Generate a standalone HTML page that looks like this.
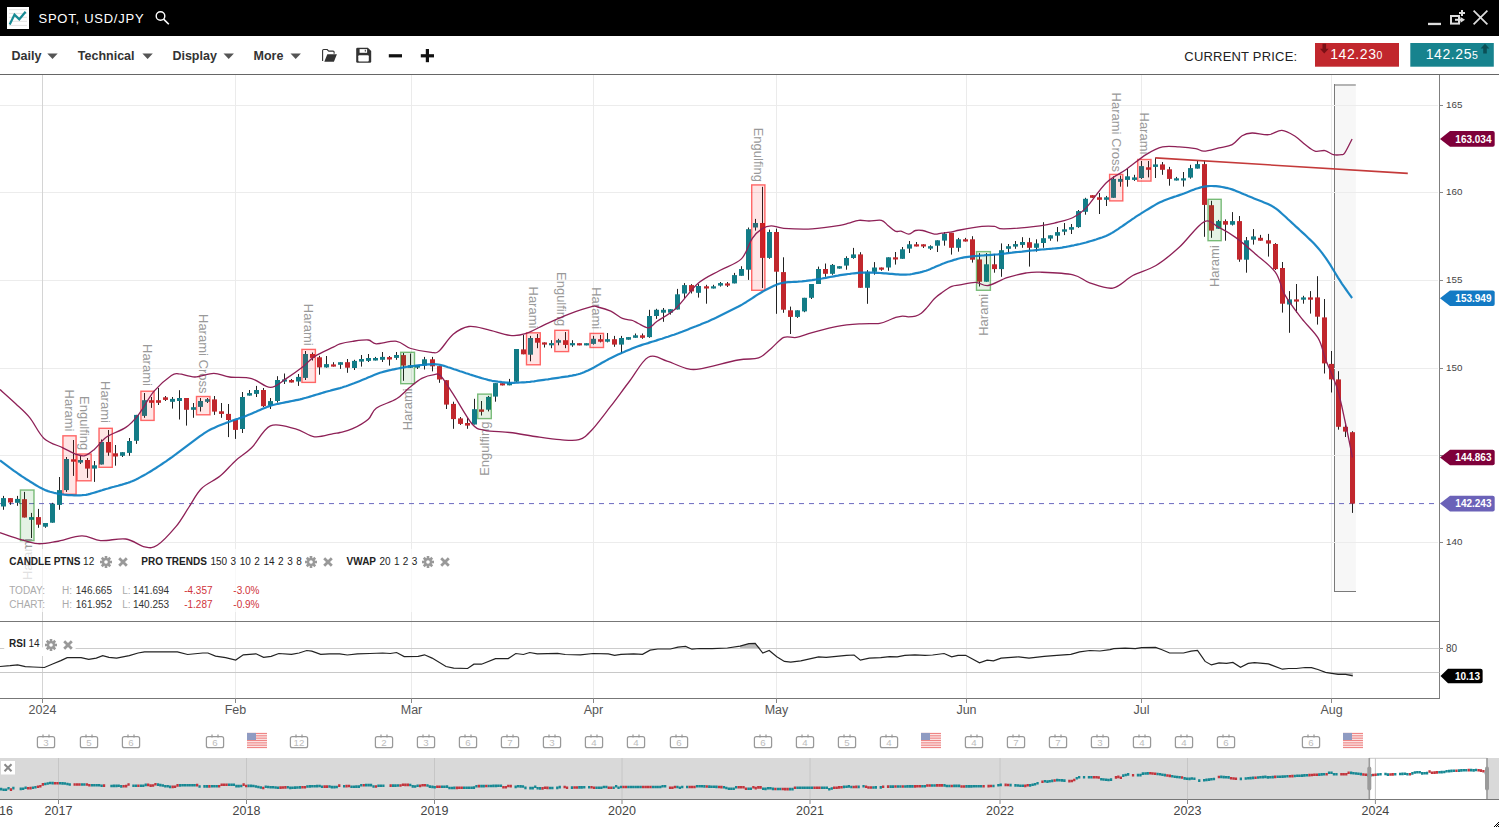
<!DOCTYPE html><html><head><meta charset="utf-8"><style>
html,body{margin:0;padding:0;background:#fff;overflow:hidden;width:1499px;height:827px;}
*{font-family:"Liberation Sans",sans-serif;}
</style></head><body>
<svg width="1499" height="827" viewBox="0 0 1499 827" style="position:absolute;left:0;top:0;display:block" font-family="Liberation Sans, sans-serif">
<rect x="0" y="0" width="1499" height="36" fill="#000"/>
<rect x="7" y="7" width="22" height="22" fill="#fff"/>
<line x1="9" y1="9.7" x2="27" y2="9.7" stroke="#e2e2e2" stroke-width="1"/>
<line x1="9" y1="13.4" x2="27" y2="13.4" stroke="#e2e2e2" stroke-width="1"/>
<line x1="9" y1="17.3" x2="27" y2="17.3" stroke="#e2e2e2" stroke-width="1"/>
<line x1="9" y1="21.3" x2="27" y2="21.3" stroke="#e2e2e2" stroke-width="1"/>
<line x1="9" y1="25.4" x2="27" y2="25.4" stroke="#e2e2e2" stroke-width="1"/>
<polyline points="9.7,24.4 14.5,14.6 19.3,19.3 25.6,11.8" fill="none" stroke="#178a94" stroke-width="2.2" stroke-linejoin="miter"/>
<text x="38.5" y="23" font-size="13" fill="#fff" letter-spacing="0.75">SPOT, USD/JPY</text>
<circle cx="160.5" cy="16" r="4.3" fill="none" stroke="#fff" stroke-width="1.4"/>
<line x1="163.6" y1="19.1" x2="168.8" y2="24.3" stroke="#fff" stroke-width="1.6"/>
<rect x="1428" y="22.8" width="13" height="2.3" fill="#ddd"/>
<rect x="1451" y="16" width="8" height="7.6" fill="none" stroke="#ddd" stroke-width="2"/>
<line x1="1455" y1="19.8" x2="1461.5" y2="19.8" stroke="#ddd" stroke-width="2"/>
<path d="M1460.5,17 L1465,19.8 L1460.5,22.7 z" fill="#ddd"/>
<path d="M1462,10 v6 M1459,13 h6" stroke="#ddd" stroke-width="2"/>
<path d="M1473.6,10.6 L1487.4,24.4 M1487.4,10.6 L1473.6,24.4" stroke="#ddd" stroke-width="1.7"/>
<rect x="0" y="36" width="1499" height="38" fill="#fff"/>
<line x1="0" y1="74.5" x2="1499" y2="74.5" stroke="#666" stroke-width="1"/>
<text x="11.5" y="60" font-size="12.5" font-weight="bold" fill="#333">Daily</text>
<path d="M47.3,53.5 h10.4 l-5.2,5.6 z" fill="#555"/>
<text x="77.8" y="60" font-size="12.5" font-weight="bold" fill="#333">Technical</text>
<path d="M142.4,53.5 h10.4 l-5.2,5.6 z" fill="#555"/>
<text x="172.4" y="60" font-size="12.5" font-weight="bold" fill="#333">Display</text>
<path d="M223.5,53.5 h10.4 l-5.2,5.6 z" fill="#555"/>
<text x="253.5" y="60" font-size="12.5" font-weight="bold" fill="#333">More</text>
<path d="M290.5,53.5 h10.4 l-5.2,5.6 z" fill="#555"/>
<path d="M322.6,61 V50.6 q0,-1.1 1.1,-1.1 h3.4 l1.6,1.6 h4.4 q1,0 1,1 v1.6" fill="none" stroke="#333" stroke-width="1.1" stroke-linejoin="round"/>
<path d="M324.3,61.8 L327.3,54.2 H336.9 L333.9,61.8 Z" fill="#333"/>
<path d="M356.2,49.1 q0,-1.3 1.3,-1.3 h10.4 l3.3,3.3 v10.4 q0,1.3 -1.3,1.3 h-12.4 q-1.3,0 -1.3,-1.3 z" fill="#333"/>
<rect x="359.6" y="49.1" width="7.5" height="3.7" fill="#fff"/>
<rect x="364.8" y="49.8" width="1" height="1.8" fill="#333"/>
<rect x="358.3" y="55.2" width="10.5" height="6.3" rx="1" fill="#fff"/>
<rect x="388.8" y="54.2" width="13.2" height="3.2" fill="#111"/>
<rect x="420.8" y="54.2" width="13.2" height="3.2" fill="#111"/>
<rect x="425.8" y="49" width="3.2" height="13.2" fill="#111"/>
<text x="1184.3" y="61.2" font-size="13" fill="#222" letter-spacing="0.2">CURRENT PRICE:</text>
<rect x="1315" y="43" width="84" height="23.7" fill="#c1272d"/>
<path d="M1322.5,43.8 h3.6 v5 h2.6 l-4.4,4.8 l-4.4,-4.8 h2.6 z" fill="#7a1016"/>
<text x="1330.2" y="59.2" font-size="14" fill="#fff" letter-spacing="0.6">142.23<tspan font-size="10.5">0</tspan></text>
<rect x="1410.3" y="43" width="83.5" height="23.7" fill="#17838e"/>
<path d="M1483.2,53.6 h3.6 v-5 h2.6 l-4.4,-4.8 l-4.4,4.8 h2.6 z" fill="#0b4f56"/>
<text x="1425.7" y="59.2" font-size="14" fill="#fff" letter-spacing="0.6">142.25<tspan font-size="10.5">5</tspan></text>
<rect x="1334.5" y="85" width="21.3" height="506.3" fill="#f7f7f7"/>
<line x1="1334.5" y1="85" x2="1355.8" y2="85" stroke="#b4b4b4" stroke-width="2"/>
<line x1="1334.5" y1="84" x2="1334.5" y2="592" stroke="#7a7a7a" stroke-width="1"/>
<line x1="1334" y1="591.5" x2="1356" y2="591.5" stroke="#7a7a7a" stroke-width="1"/>
<line x1="0" y1="105.5" x2="1438" y2="105.5" stroke="#ececec" stroke-width="1"/>
<line x1="0" y1="192.5" x2="1438" y2="192.5" stroke="#ececec" stroke-width="1"/>
<line x1="0" y1="280.5" x2="1438" y2="280.5" stroke="#ececec" stroke-width="1"/>
<line x1="0" y1="368.5" x2="1438" y2="368.5" stroke="#ececec" stroke-width="1"/>
<line x1="0" y1="455.5" x2="1438" y2="455.5" stroke="#ececec" stroke-width="1"/>
<line x1="0" y1="542.5" x2="1438" y2="542.5" stroke="#ececec" stroke-width="1"/>
<line x1="42.5" y1="75" x2="42.5" y2="698" stroke="#d4d4d4" stroke-width="1"/>
<line x1="235.5" y1="75" x2="235.5" y2="698" stroke="#ebebeb" stroke-width="1"/>
<line x1="411.5" y1="75" x2="411.5" y2="698" stroke="#ebebeb" stroke-width="1"/>
<line x1="593.5" y1="75" x2="593.5" y2="698" stroke="#ebebeb" stroke-width="1"/>
<line x1="776.5" y1="75" x2="776.5" y2="698" stroke="#ebebeb" stroke-width="1"/>
<line x1="966.5" y1="75" x2="966.5" y2="698" stroke="#ebebeb" stroke-width="1"/>
<line x1="1141.5" y1="75" x2="1141.5" y2="698" stroke="#ebebeb" stroke-width="1"/>
<line x1="1331.5" y1="75" x2="1331.5" y2="698" stroke="#ebebeb" stroke-width="1"/>
<line x1="0" y1="503.6" x2="1439" y2="503.6" stroke="#6b68c0" stroke-width="1" stroke-dasharray="5,5" stroke-dashoffset="1"/>
<line x1="3.50" y1="495.9" x2="3.50" y2="509.8" stroke="#222" stroke-width="1"/>
<rect x="1.00" y="498.1" width="5" height="8.4" fill="#137c87"/>
<line x1="10.50" y1="498.1" x2="10.50" y2="504.8" stroke="#222" stroke-width="1"/>
<rect x="8.00" y="498.1" width="5" height="4.4" fill="#c1272d"/>
<line x1="17.50" y1="495.9" x2="17.50" y2="505.8" stroke="#222" stroke-width="1"/>
<rect x="15.00" y="498.9" width="5" height="3.9" fill="#137c87"/>
<line x1="24.50" y1="491.9" x2="24.50" y2="517.5" stroke="#222" stroke-width="1"/>
<rect x="22.00" y="499.2" width="5" height="18.3" fill="#c1272d"/>
<line x1="31.50" y1="512.9" x2="31.50" y2="538.0" stroke="#222" stroke-width="1"/>
<rect x="29.00" y="517.1" width="5" height="2.7" fill="#137c87"/>
<line x1="38.50" y1="508.9" x2="38.50" y2="527.8" stroke="#222" stroke-width="1"/>
<rect x="36.00" y="517.1" width="5" height="7.6" fill="#c1272d"/>
<line x1="45.50" y1="523.0" x2="45.50" y2="527.8" stroke="#222" stroke-width="1"/>
<rect x="43.00" y="523.0" width="5" height="3.7" fill="#137c87"/>
<line x1="52.50" y1="502.8" x2="52.50" y2="522.7" stroke="#222" stroke-width="1"/>
<rect x="50.00" y="503.8" width="5" height="18.9" fill="#137c87"/>
<line x1="59.50" y1="477.0" x2="59.50" y2="509.8" stroke="#222" stroke-width="1"/>
<rect x="57.00" y="490.1" width="5" height="14.8" fill="#137c87"/>
<line x1="66.50" y1="457.0" x2="66.50" y2="491.9" stroke="#222" stroke-width="1"/>
<rect x="64.00" y="459.0" width="5" height="31.1" fill="#137c87"/>
<line x1="73.50" y1="440.0" x2="73.50" y2="475.9" stroke="#222" stroke-width="1"/>
<rect x="71.00" y="459.3" width="5" height="2.4" fill="#c1272d"/>
<line x1="80.50" y1="456.0" x2="80.50" y2="464.0" stroke="#222" stroke-width="1"/>
<rect x="78.00" y="460.0" width="5" height="2.6" fill="#137c87"/>
<line x1="87.50" y1="458.0" x2="87.50" y2="477.9" stroke="#222" stroke-width="1"/>
<rect x="85.00" y="460.0" width="5" height="8.6" fill="#c1272d"/>
<line x1="94.50" y1="461.0" x2="94.50" y2="481.9" stroke="#222" stroke-width="1"/>
<rect x="92.00" y="465.3" width="5" height="3.3" fill="#137c87"/>
<line x1="101.50" y1="439.5" x2="101.50" y2="464.5" stroke="#222" stroke-width="1"/>
<rect x="99.00" y="442.0" width="5" height="22.5" fill="#137c87"/>
<line x1="108.50" y1="430.0" x2="108.50" y2="455.8" stroke="#222" stroke-width="1"/>
<rect x="106.00" y="442.0" width="5" height="10.6" fill="#c1272d"/>
<line x1="115.50" y1="445.0" x2="115.50" y2="465.7" stroke="#222" stroke-width="1"/>
<rect x="113.00" y="453.3" width="5" height="3.2" fill="#c1272d"/>
<line x1="122.50" y1="452.2" x2="122.50" y2="457.0" stroke="#222" stroke-width="1"/>
<rect x="120.00" y="452.2" width="5" height="3.6" fill="#137c87"/>
<line x1="129.50" y1="438.0" x2="129.50" y2="455.8" stroke="#222" stroke-width="1"/>
<rect x="127.00" y="441.0" width="5" height="11.9" fill="#137c87"/>
<line x1="136.50" y1="414.9" x2="136.50" y2="443.9" stroke="#222" stroke-width="1"/>
<rect x="134.00" y="414.9" width="5" height="25.9" fill="#137c87"/>
<line x1="144.50" y1="393.0" x2="144.50" y2="417.8" stroke="#222" stroke-width="1"/>
<rect x="142.00" y="400.2" width="5" height="15.7" fill="#137c87"/>
<line x1="151.50" y1="397.0" x2="151.50" y2="407.9" stroke="#222" stroke-width="1"/>
<rect x="149.00" y="400.2" width="5" height="2.6" fill="#c1272d"/>
<line x1="158.50" y1="388.0" x2="158.50" y2="405.0" stroke="#222" stroke-width="1"/>
<rect x="156.00" y="400.2" width="5" height="2.6" fill="#c1272d"/>
<line x1="165.50" y1="396.0" x2="165.50" y2="401.0" stroke="#222" stroke-width="1"/>
<rect x="163.00" y="397.3" width="5" height="2.6" fill="#c1272d"/>
<line x1="172.50" y1="397.0" x2="172.50" y2="408.6" stroke="#222" stroke-width="1"/>
<rect x="170.00" y="398.9" width="5" height="2.9" fill="#137c87"/>
<line x1="179.50" y1="390.2" x2="179.50" y2="419.5" stroke="#222" stroke-width="1"/>
<rect x="177.00" y="398.0" width="5" height="3.0" fill="#137c87"/>
<line x1="186.50" y1="398.0" x2="186.50" y2="425.6" stroke="#222" stroke-width="1"/>
<rect x="184.00" y="398.0" width="5" height="11.8" fill="#c1272d"/>
<line x1="193.50" y1="403.0" x2="193.50" y2="417.8" stroke="#222" stroke-width="1"/>
<rect x="191.00" y="407.2" width="5" height="2.6" fill="#137c87"/>
<line x1="200.50" y1="398.0" x2="200.50" y2="411.5" stroke="#222" stroke-width="1"/>
<rect x="198.00" y="401.0" width="5" height="5.9" fill="#137c87"/>
<line x1="207.50" y1="398.0" x2="207.50" y2="403.0" stroke="#222" stroke-width="1"/>
<rect x="205.00" y="399.2" width="5" height="2.6" fill="#137c87"/>
<line x1="214.50" y1="396.0" x2="214.50" y2="414.9" stroke="#222" stroke-width="1"/>
<rect x="212.00" y="399.4" width="5" height="12.2" fill="#c1272d"/>
<line x1="221.50" y1="403.0" x2="221.50" y2="417.8" stroke="#222" stroke-width="1"/>
<rect x="219.00" y="411.3" width="5" height="2.6" fill="#c1272d"/>
<line x1="228.50" y1="404.0" x2="228.50" y2="437.1" stroke="#222" stroke-width="1"/>
<rect x="226.00" y="413.9" width="5" height="6.1" fill="#c1272d"/>
<line x1="235.50" y1="420.0" x2="235.50" y2="438.9" stroke="#222" stroke-width="1"/>
<rect x="233.00" y="420.0" width="5" height="9.9" fill="#c1272d"/>
<line x1="242.50" y1="392.0" x2="242.50" y2="433.0" stroke="#222" stroke-width="1"/>
<rect x="240.00" y="397.0" width="5" height="32.0" fill="#137c87"/>
<line x1="249.50" y1="390.0" x2="249.50" y2="395.6" stroke="#222" stroke-width="1"/>
<rect x="247.00" y="393.1" width="5" height="2.5" fill="#137c87"/>
<line x1="256.50" y1="385.9" x2="256.50" y2="397.0" stroke="#222" stroke-width="1"/>
<rect x="254.00" y="390.0" width="5" height="3.9" fill="#137c87"/>
<line x1="263.50" y1="388.0" x2="263.50" y2="407.0" stroke="#222" stroke-width="1"/>
<rect x="261.00" y="390.0" width="5" height="16.2" fill="#c1272d"/>
<line x1="270.50" y1="398.0" x2="270.50" y2="409.0" stroke="#222" stroke-width="1"/>
<rect x="268.00" y="401.1" width="5" height="4.4" fill="#137c87"/>
<line x1="277.50" y1="376.2" x2="277.50" y2="402.6" stroke="#222" stroke-width="1"/>
<rect x="275.00" y="380.0" width="5" height="21.0" fill="#137c87"/>
<line x1="284.50" y1="373.5" x2="284.50" y2="384.0" stroke="#222" stroke-width="1"/>
<rect x="282.00" y="379.4" width="5" height="2.2" fill="#137c87"/>
<line x1="291.50" y1="379.0" x2="291.50" y2="382.5" stroke="#222" stroke-width="1"/>
<rect x="289.00" y="380.0" width="5" height="2.5" fill="#c1272d"/>
<line x1="298.50" y1="374.0" x2="298.50" y2="385.9" stroke="#222" stroke-width="1"/>
<rect x="296.00" y="376.9" width="5" height="4.6" fill="#137c87"/>
<line x1="305.50" y1="351.0" x2="305.50" y2="380.0" stroke="#222" stroke-width="1"/>
<rect x="303.00" y="354.0" width="5" height="23.9" fill="#137c87"/>
<line x1="312.50" y1="352.5" x2="312.50" y2="360.5" stroke="#222" stroke-width="1"/>
<rect x="310.00" y="354.0" width="5" height="3.9" fill="#c1272d"/>
<line x1="319.50" y1="355.8" x2="319.50" y2="374.7" stroke="#222" stroke-width="1"/>
<rect x="317.00" y="357.3" width="5" height="10.1" fill="#c1272d"/>
<line x1="326.50" y1="356.0" x2="326.50" y2="367.7" stroke="#222" stroke-width="1"/>
<rect x="324.00" y="364.1" width="5" height="3.3" fill="#137c87"/>
<line x1="333.50" y1="362.2" x2="333.50" y2="366.6" stroke="#222" stroke-width="1"/>
<rect x="331.00" y="364.4" width="5" height="2.2" fill="#c1272d"/>
<line x1="340.50" y1="362.2" x2="340.50" y2="368.9" stroke="#222" stroke-width="1"/>
<rect x="338.00" y="362.2" width="5" height="2.6" fill="#137c87"/>
<line x1="347.50" y1="359.0" x2="347.50" y2="372.8" stroke="#222" stroke-width="1"/>
<rect x="345.00" y="362.2" width="5" height="5.5" fill="#c1272d"/>
<line x1="354.50" y1="359.8" x2="354.50" y2="370.0" stroke="#222" stroke-width="1"/>
<rect x="352.00" y="360.9" width="5" height="7.1" fill="#137c87"/>
<line x1="361.50" y1="355.0" x2="361.50" y2="366.6" stroke="#222" stroke-width="1"/>
<rect x="359.00" y="359.0" width="5" height="2.6" fill="#137c87"/>
<line x1="368.50" y1="354.0" x2="368.50" y2="362.0" stroke="#222" stroke-width="1"/>
<rect x="366.00" y="358.0" width="5" height="2.9" fill="#137c87"/>
<line x1="375.50" y1="356.9" x2="375.50" y2="360.5" stroke="#222" stroke-width="1"/>
<rect x="373.00" y="358.0" width="5" height="2.5" fill="#137c87"/>
<line x1="382.50" y1="352.0" x2="382.50" y2="362.0" stroke="#222" stroke-width="1"/>
<rect x="380.00" y="356.9" width="5" height="2.9" fill="#137c87"/>
<line x1="389.50" y1="356.0" x2="389.50" y2="365.6" stroke="#222" stroke-width="1"/>
<rect x="387.00" y="357.1" width="5" height="2.4" fill="#c1272d"/>
<line x1="396.50" y1="352.0" x2="396.50" y2="359.8" stroke="#222" stroke-width="1"/>
<rect x="394.00" y="355.0" width="5" height="2.9" fill="#137c87"/>
<line x1="403.50" y1="353.0" x2="403.50" y2="380.8" stroke="#222" stroke-width="1"/>
<rect x="401.00" y="355.1" width="5" height="10.5" fill="#c1272d"/>
<line x1="410.50" y1="353.5" x2="410.50" y2="368.0" stroke="#222" stroke-width="1"/>
<rect x="408.00" y="365.3" width="5" height="2.4" fill="#137c87"/>
<line x1="417.50" y1="365.1" x2="417.50" y2="369.0" stroke="#222" stroke-width="1"/>
<rect x="415.00" y="365.1" width="5" height="2.6" fill="#137c87"/>
<line x1="424.50" y1="356.9" x2="424.50" y2="369.5" stroke="#222" stroke-width="1"/>
<rect x="422.00" y="359.3" width="5" height="6.3" fill="#137c87"/>
<line x1="432.50" y1="356.9" x2="432.50" y2="371.4" stroke="#222" stroke-width="1"/>
<rect x="430.00" y="359.3" width="5" height="7.0" fill="#c1272d"/>
<line x1="439.50" y1="366.1" x2="439.50" y2="382.8" stroke="#222" stroke-width="1"/>
<rect x="437.00" y="366.1" width="5" height="13.4" fill="#c1272d"/>
<line x1="446.50" y1="380.2" x2="446.50" y2="409.0" stroke="#222" stroke-width="1"/>
<rect x="444.00" y="380.2" width="5" height="24.4" fill="#c1272d"/>
<line x1="453.50" y1="401.7" x2="453.50" y2="428.8" stroke="#222" stroke-width="1"/>
<rect x="451.00" y="403.9" width="5" height="15.2" fill="#c1272d"/>
<line x1="460.50" y1="417.0" x2="460.50" y2="424.9" stroke="#222" stroke-width="1"/>
<rect x="458.00" y="418.4" width="5" height="5.5" fill="#c1272d"/>
<line x1="467.50" y1="417.0" x2="467.50" y2="428.8" stroke="#222" stroke-width="1"/>
<rect x="465.00" y="423.0" width="5" height="2.6" fill="#c1272d"/>
<line x1="474.50" y1="398.8" x2="474.50" y2="424.5" stroke="#222" stroke-width="1"/>
<rect x="472.00" y="409.2" width="5" height="15.3" fill="#137c87"/>
<line x1="481.50" y1="401.0" x2="481.50" y2="415.5" stroke="#222" stroke-width="1"/>
<rect x="479.00" y="409.4" width="5" height="2.4" fill="#c1272d"/>
<line x1="488.50" y1="395.9" x2="488.50" y2="411.4" stroke="#222" stroke-width="1"/>
<rect x="486.00" y="396.9" width="5" height="12.8" fill="#137c87"/>
<line x1="495.50" y1="383.1" x2="495.50" y2="401.7" stroke="#222" stroke-width="1"/>
<rect x="493.00" y="383.1" width="5" height="13.5" fill="#137c87"/>
<line x1="502.50" y1="383.3" x2="502.50" y2="385.4" stroke="#222" stroke-width="1"/>
<rect x="500.00" y="383.2" width="5" height="2.2" fill="#c1272d"/>
<line x1="509.50" y1="378.9" x2="509.50" y2="385.3" stroke="#222" stroke-width="1"/>
<rect x="507.00" y="382.8" width="5" height="2.5" fill="#137c87"/>
<line x1="516.50" y1="349.0" x2="516.50" y2="382.1" stroke="#222" stroke-width="1"/>
<rect x="514.00" y="349.0" width="5" height="32.6" fill="#137c87"/>
<line x1="523.50" y1="334.9" x2="523.50" y2="354.3" stroke="#222" stroke-width="1"/>
<rect x="521.00" y="349.4" width="5" height="4.9" fill="#c1272d"/>
<line x1="530.50" y1="335.9" x2="530.50" y2="361.3" stroke="#222" stroke-width="1"/>
<rect x="528.00" y="338.0" width="5" height="16.7" fill="#137c87"/>
<line x1="537.50" y1="334.0" x2="537.50" y2="348.2" stroke="#222" stroke-width="1"/>
<rect x="535.00" y="338.0" width="5" height="4.7" fill="#c1272d"/>
<line x1="544.50" y1="342.4" x2="544.50" y2="347.5" stroke="#222" stroke-width="1"/>
<rect x="542.00" y="342.4" width="5" height="2.2" fill="#c1272d"/>
<line x1="551.50" y1="340.2" x2="551.50" y2="348.2" stroke="#222" stroke-width="1"/>
<rect x="549.00" y="343.1" width="5" height="2.2" fill="#137c87"/>
<line x1="558.50" y1="338.8" x2="558.50" y2="345.3" stroke="#222" stroke-width="1"/>
<rect x="556.00" y="340.2" width="5" height="2.5" fill="#137c87"/>
<line x1="565.50" y1="332.0" x2="565.50" y2="348.2" stroke="#222" stroke-width="1"/>
<rect x="563.00" y="340.2" width="5" height="4.7" fill="#c1272d"/>
<line x1="572.50" y1="340.2" x2="572.50" y2="346.8" stroke="#222" stroke-width="1"/>
<rect x="570.00" y="343.1" width="5" height="2.2" fill="#137c87"/>
<line x1="579.50" y1="343.4" x2="579.50" y2="345.3" stroke="#222" stroke-width="1"/>
<rect x="577.00" y="343.2" width="5" height="2.2" fill="#c1272d"/>
<line x1="586.50" y1="343.4" x2="586.50" y2="345.3" stroke="#222" stroke-width="1"/>
<rect x="584.00" y="343.2" width="5" height="2.2" fill="#137c87"/>
<line x1="593.50" y1="335.9" x2="593.50" y2="344.6" stroke="#222" stroke-width="1"/>
<rect x="591.00" y="338.8" width="5" height="5.1" fill="#137c87"/>
<line x1="600.50" y1="334.9" x2="600.50" y2="342.4" stroke="#222" stroke-width="1"/>
<rect x="598.00" y="339.2" width="5" height="2.5" fill="#c1272d"/>
<line x1="607.50" y1="333.0" x2="607.50" y2="342.4" stroke="#222" stroke-width="1"/>
<rect x="605.00" y="339.2" width="5" height="2.5" fill="#137c87"/>
<line x1="614.50" y1="335.9" x2="614.50" y2="346.8" stroke="#222" stroke-width="1"/>
<rect x="612.00" y="339.2" width="5" height="5.4" fill="#c1272d"/>
<line x1="621.50" y1="335.9" x2="621.50" y2="353.3" stroke="#222" stroke-width="1"/>
<rect x="619.00" y="338.0" width="5" height="6.6" fill="#137c87"/>
<line x1="628.50" y1="337.1" x2="628.50" y2="339.7" stroke="#222" stroke-width="1"/>
<rect x="626.00" y="337.1" width="5" height="2.6" fill="#137c87"/>
<line x1="635.50" y1="333.5" x2="635.50" y2="337.8" stroke="#222" stroke-width="1"/>
<rect x="633.00" y="335.3" width="5" height="2.5" fill="#137c87"/>
<line x1="642.50" y1="333.5" x2="642.50" y2="338.8" stroke="#222" stroke-width="1"/>
<rect x="640.00" y="335.3" width="5" height="2.5" fill="#c1272d"/>
<line x1="649.50" y1="309.8" x2="649.50" y2="337.8" stroke="#222" stroke-width="1"/>
<rect x="647.00" y="316.0" width="5" height="21.1" fill="#137c87"/>
<line x1="656.50" y1="308.8" x2="656.50" y2="318.9" stroke="#222" stroke-width="1"/>
<rect x="654.00" y="309.8" width="5" height="6.2" fill="#137c87"/>
<line x1="663.50" y1="308.0" x2="663.50" y2="321.8" stroke="#222" stroke-width="1"/>
<rect x="661.00" y="309.8" width="5" height="2.9" fill="#137c87"/>
<line x1="670.50" y1="309.2" x2="670.50" y2="314.6" stroke="#222" stroke-width="1"/>
<rect x="668.00" y="309.2" width="5" height="3.5" fill="#137c87"/>
<line x1="677.50" y1="288.9" x2="677.50" y2="309.5" stroke="#222" stroke-width="1"/>
<rect x="675.00" y="294.3" width="5" height="15.2" fill="#137c87"/>
<line x1="684.50" y1="283.1" x2="684.50" y2="298.6" stroke="#222" stroke-width="1"/>
<rect x="682.00" y="285.1" width="5" height="8.4" fill="#137c87"/>
<line x1="691.50" y1="284.1" x2="691.50" y2="293.5" stroke="#222" stroke-width="1"/>
<rect x="689.00" y="285.1" width="5" height="6.3" fill="#c1272d"/>
<line x1="698.50" y1="284.1" x2="698.50" y2="297.6" stroke="#222" stroke-width="1"/>
<rect x="696.00" y="286.0" width="5" height="6.8" fill="#137c87"/>
<line x1="706.50" y1="284.8" x2="706.50" y2="303.7" stroke="#222" stroke-width="1"/>
<rect x="704.00" y="286.3" width="5" height="2.2" fill="#c1272d"/>
<line x1="713.50" y1="284.8" x2="713.50" y2="288.5" stroke="#222" stroke-width="1"/>
<rect x="711.00" y="286.3" width="5" height="2.2" fill="#137c87"/>
<line x1="720.50" y1="282.0" x2="720.50" y2="286.6" stroke="#222" stroke-width="1"/>
<rect x="718.00" y="283.1" width="5" height="2.5" fill="#137c87"/>
<line x1="727.50" y1="282.0" x2="727.50" y2="287.0" stroke="#222" stroke-width="1"/>
<rect x="725.00" y="283.4" width="5" height="2.2" fill="#c1272d"/>
<line x1="734.50" y1="272.9" x2="734.50" y2="283.4" stroke="#222" stroke-width="1"/>
<rect x="732.00" y="275.1" width="5" height="8.3" fill="#137c87"/>
<line x1="741.50" y1="266.2" x2="741.50" y2="275.8" stroke="#222" stroke-width="1"/>
<rect x="739.00" y="269.0" width="5" height="6.8" fill="#137c87"/>
<line x1="748.50" y1="227.5" x2="748.50" y2="279.9" stroke="#222" stroke-width="1"/>
<rect x="746.00" y="229.2" width="5" height="40.5" fill="#137c87"/>
<line x1="755.50" y1="218.9" x2="755.50" y2="230.6" stroke="#222" stroke-width="1"/>
<rect x="753.00" y="223.0" width="5" height="4.5" fill="#137c87"/>
<line x1="762.50" y1="186.8" x2="762.50" y2="288.1" stroke="#222" stroke-width="1"/>
<rect x="760.00" y="223.0" width="5" height="34.9" fill="#c1272d"/>
<line x1="769.50" y1="229.6" x2="769.50" y2="258.8" stroke="#222" stroke-width="1"/>
<rect x="767.00" y="232.0" width="5" height="25.9" fill="#137c87"/>
<line x1="776.50" y1="228.6" x2="776.50" y2="313.8" stroke="#222" stroke-width="1"/>
<rect x="774.00" y="232.0" width="5" height="39.7" fill="#c1272d"/>
<line x1="783.50" y1="257.3" x2="783.50" y2="312.8" stroke="#222" stroke-width="1"/>
<rect x="781.00" y="272.1" width="5" height="37.6" fill="#c1272d"/>
<line x1="790.50" y1="306.6" x2="790.50" y2="334.0" stroke="#222" stroke-width="1"/>
<rect x="788.00" y="310.3" width="5" height="6.6" fill="#c1272d"/>
<line x1="797.50" y1="310.3" x2="797.50" y2="317.9" stroke="#222" stroke-width="1"/>
<rect x="795.00" y="310.3" width="5" height="6.6" fill="#137c87"/>
<line x1="804.50" y1="297.8" x2="804.50" y2="312.2" stroke="#222" stroke-width="1"/>
<rect x="802.00" y="297.8" width="5" height="13.6" fill="#137c87"/>
<line x1="811.50" y1="284.0" x2="811.50" y2="299.0" stroke="#222" stroke-width="1"/>
<rect x="809.00" y="284.0" width="5" height="13.8" fill="#137c87"/>
<line x1="818.50" y1="266.6" x2="818.50" y2="284.0" stroke="#222" stroke-width="1"/>
<rect x="816.00" y="269.0" width="5" height="15.0" fill="#137c87"/>
<line x1="825.50" y1="263.5" x2="825.50" y2="276.8" stroke="#222" stroke-width="1"/>
<rect x="823.00" y="269.0" width="5" height="4.8" fill="#c1272d"/>
<line x1="832.50" y1="264.0" x2="832.50" y2="274.8" stroke="#222" stroke-width="1"/>
<rect x="830.00" y="264.9" width="5" height="8.9" fill="#137c87"/>
<line x1="839.50" y1="266.2" x2="839.50" y2="268.6" stroke="#222" stroke-width="1"/>
<rect x="837.00" y="266.2" width="5" height="2.4" fill="#137c87"/>
<line x1="846.50" y1="256.3" x2="846.50" y2="269.7" stroke="#222" stroke-width="1"/>
<rect x="844.00" y="258.0" width="5" height="7.6" fill="#137c87"/>
<line x1="853.50" y1="247.9" x2="853.50" y2="258.8" stroke="#222" stroke-width="1"/>
<rect x="851.00" y="254.4" width="5" height="3.6" fill="#137c87"/>
<line x1="860.50" y1="252.2" x2="860.50" y2="287.8" stroke="#222" stroke-width="1"/>
<rect x="858.00" y="254.4" width="5" height="33.4" fill="#c1272d"/>
<line x1="867.50" y1="270.1" x2="867.50" y2="303.8" stroke="#222" stroke-width="1"/>
<rect x="865.00" y="271.8" width="5" height="16.0" fill="#137c87"/>
<line x1="874.50" y1="262.1" x2="874.50" y2="274.7" stroke="#222" stroke-width="1"/>
<rect x="872.00" y="267.5" width="5" height="4.3" fill="#137c87"/>
<line x1="881.50" y1="267.5" x2="881.50" y2="270.8" stroke="#222" stroke-width="1"/>
<rect x="879.00" y="267.5" width="5" height="2.2" fill="#c1272d"/>
<line x1="888.50" y1="257.3" x2="888.50" y2="270.8" stroke="#222" stroke-width="1"/>
<rect x="886.00" y="257.3" width="5" height="10.2" fill="#137c87"/>
<line x1="895.50" y1="252.0" x2="895.50" y2="264.6" stroke="#222" stroke-width="1"/>
<rect x="893.00" y="257.3" width="5" height="2.2" fill="#c1272d"/>
<line x1="902.50" y1="247.0" x2="902.50" y2="258.8" stroke="#222" stroke-width="1"/>
<rect x="900.00" y="249.3" width="5" height="9.5" fill="#137c87"/>
<line x1="909.50" y1="241.0" x2="909.50" y2="253.0" stroke="#222" stroke-width="1"/>
<rect x="907.00" y="244.3" width="5" height="4.3" fill="#137c87"/>
<line x1="916.50" y1="242.0" x2="916.50" y2="246.4" stroke="#222" stroke-width="1"/>
<rect x="914.00" y="244.3" width="5" height="2.2" fill="#c1272d"/>
<line x1="923.50" y1="244.3" x2="923.50" y2="248.0" stroke="#222" stroke-width="1"/>
<rect x="921.00" y="244.3" width="5" height="2.2" fill="#c1272d"/>
<line x1="930.50" y1="245.3" x2="930.50" y2="250.0" stroke="#222" stroke-width="1"/>
<rect x="928.00" y="246.2" width="5" height="2.4" fill="#137c87"/>
<line x1="937.50" y1="240.3" x2="937.50" y2="252.0" stroke="#222" stroke-width="1"/>
<rect x="935.00" y="240.3" width="5" height="5.4" fill="#137c87"/>
<line x1="944.50" y1="232.0" x2="944.50" y2="245.7" stroke="#222" stroke-width="1"/>
<rect x="942.00" y="233.7" width="5" height="6.9" fill="#137c87"/>
<line x1="951.50" y1="232.8" x2="951.50" y2="254.6" stroke="#222" stroke-width="1"/>
<rect x="949.00" y="232.8" width="5" height="15.0" fill="#c1272d"/>
<line x1="958.50" y1="237.9" x2="958.50" y2="251.7" stroke="#222" stroke-width="1"/>
<rect x="956.00" y="239.3" width="5" height="8.5" fill="#137c87"/>
<line x1="965.50" y1="237.9" x2="965.50" y2="241.5" stroke="#222" stroke-width="1"/>
<rect x="963.00" y="239.3" width="5" height="2.2" fill="#c1272d"/>
<line x1="972.50" y1="236.2" x2="972.50" y2="262.6" stroke="#222" stroke-width="1"/>
<rect x="970.00" y="239.3" width="5" height="20.4" fill="#c1272d"/>
<line x1="979.50" y1="253.1" x2="979.50" y2="286.5" stroke="#222" stroke-width="1"/>
<rect x="977.00" y="259.4" width="5" height="22.3" fill="#c1272d"/>
<line x1="986.50" y1="253.1" x2="986.50" y2="281.7" stroke="#222" stroke-width="1"/>
<rect x="984.00" y="264.3" width="5" height="17.4" fill="#137c87"/>
<line x1="994.50" y1="253.9" x2="994.50" y2="272.7" stroke="#222" stroke-width="1"/>
<rect x="992.00" y="264.3" width="5" height="4.8" fill="#c1272d"/>
<line x1="1001.50" y1="243.4" x2="1001.50" y2="276.8" stroke="#222" stroke-width="1"/>
<rect x="999.00" y="250.2" width="5" height="18.9" fill="#137c87"/>
<line x1="1008.50" y1="244.0" x2="1008.50" y2="252.7" stroke="#222" stroke-width="1"/>
<rect x="1006.00" y="246.2" width="5" height="2.6" fill="#137c87"/>
<line x1="1015.50" y1="241.0" x2="1015.50" y2="248.8" stroke="#222" stroke-width="1"/>
<rect x="1013.00" y="244.1" width="5" height="2.5" fill="#137c87"/>
<line x1="1022.50" y1="237.2" x2="1022.50" y2="247.8" stroke="#222" stroke-width="1"/>
<rect x="1020.00" y="242.0" width="5" height="2.9" fill="#137c87"/>
<line x1="1029.50" y1="237.9" x2="1029.50" y2="266.6" stroke="#222" stroke-width="1"/>
<rect x="1027.00" y="242.2" width="5" height="5.6" fill="#c1272d"/>
<line x1="1036.50" y1="239.3" x2="1036.50" y2="251.7" stroke="#222" stroke-width="1"/>
<rect x="1034.00" y="243.4" width="5" height="4.4" fill="#137c87"/>
<line x1="1043.50" y1="222.2" x2="1043.50" y2="247.8" stroke="#222" stroke-width="1"/>
<rect x="1041.00" y="238.2" width="5" height="4.8" fill="#137c87"/>
<line x1="1050.50" y1="235.3" x2="1050.50" y2="240.8" stroke="#222" stroke-width="1"/>
<rect x="1048.00" y="235.3" width="5" height="3.3" fill="#137c87"/>
<line x1="1057.50" y1="227.0" x2="1057.50" y2="241.5" stroke="#222" stroke-width="1"/>
<rect x="1055.00" y="232.1" width="5" height="3.6" fill="#137c87"/>
<line x1="1064.50" y1="223.0" x2="1064.50" y2="235.1" stroke="#222" stroke-width="1"/>
<rect x="1062.00" y="229.3" width="5" height="2.4" fill="#137c87"/>
<line x1="1071.50" y1="224.0" x2="1071.50" y2="234.0" stroke="#222" stroke-width="1"/>
<rect x="1069.00" y="227.1" width="5" height="2.6" fill="#137c87"/>
<line x1="1078.50" y1="210.0" x2="1078.50" y2="227.8" stroke="#222" stroke-width="1"/>
<rect x="1076.00" y="211.1" width="5" height="16.0" fill="#137c87"/>
<line x1="1085.50" y1="197.8" x2="1085.50" y2="214.7" stroke="#222" stroke-width="1"/>
<rect x="1083.00" y="198.8" width="5" height="13.0" fill="#137c87"/>
<line x1="1092.50" y1="195.2" x2="1092.50" y2="197.8" stroke="#222" stroke-width="1"/>
<rect x="1090.00" y="195.2" width="5" height="2.6" fill="#c1272d"/>
<line x1="1099.50" y1="193.0" x2="1099.50" y2="214.0" stroke="#222" stroke-width="1"/>
<rect x="1097.00" y="197.3" width="5" height="2.5" fill="#c1272d"/>
<line x1="1106.50" y1="195.9" x2="1106.50" y2="206.0" stroke="#222" stroke-width="1"/>
<rect x="1104.00" y="197.3" width="5" height="2.5" fill="#137c87"/>
<line x1="1113.50" y1="176.3" x2="1113.50" y2="197.8" stroke="#222" stroke-width="1"/>
<rect x="1111.00" y="178.9" width="5" height="18.9" fill="#137c87"/>
<line x1="1120.50" y1="175.6" x2="1120.50" y2="186.7" stroke="#222" stroke-width="1"/>
<rect x="1118.00" y="178.9" width="5" height="2.9" fill="#137c87"/>
<line x1="1127.50" y1="169.0" x2="1127.50" y2="186.7" stroke="#222" stroke-width="1"/>
<rect x="1125.00" y="176.3" width="5" height="3.6" fill="#137c87"/>
<line x1="1134.50" y1="174.8" x2="1134.50" y2="180.9" stroke="#222" stroke-width="1"/>
<rect x="1132.00" y="177.4" width="5" height="2.5" fill="#137c87"/>
<line x1="1141.50" y1="161.0" x2="1141.50" y2="178.9" stroke="#222" stroke-width="1"/>
<rect x="1139.00" y="166.1" width="5" height="11.9" fill="#137c87"/>
<line x1="1148.50" y1="161.0" x2="1148.50" y2="177.4" stroke="#222" stroke-width="1"/>
<rect x="1146.00" y="167.3" width="5" height="2.5" fill="#c1272d"/>
<line x1="1155.50" y1="157.7" x2="1155.50" y2="178.0" stroke="#222" stroke-width="1"/>
<rect x="1153.00" y="164.4" width="5" height="2.5" fill="#137c87"/>
<line x1="1162.50" y1="162.0" x2="1162.50" y2="174.8" stroke="#222" stroke-width="1"/>
<rect x="1160.00" y="164.4" width="5" height="5.4" fill="#c1272d"/>
<line x1="1169.50" y1="166.9" x2="1169.50" y2="185.7" stroke="#222" stroke-width="1"/>
<rect x="1167.00" y="169.3" width="5" height="9.6" fill="#c1272d"/>
<line x1="1176.50" y1="176.9" x2="1176.50" y2="180.5" stroke="#222" stroke-width="1"/>
<rect x="1174.00" y="178.3" width="5" height="2.2" fill="#137c87"/>
<line x1="1183.50" y1="172.0" x2="1183.50" y2="186.6" stroke="#222" stroke-width="1"/>
<rect x="1181.00" y="178.3" width="5" height="2.2" fill="#137c87"/>
<line x1="1190.50" y1="164.8" x2="1190.50" y2="178.7" stroke="#222" stroke-width="1"/>
<rect x="1188.00" y="168.1" width="5" height="9.5" fill="#137c87"/>
<line x1="1197.50" y1="160.4" x2="1197.50" y2="168.6" stroke="#222" stroke-width="1"/>
<rect x="1195.00" y="164.1" width="5" height="4.5" fill="#137c87"/>
<line x1="1204.50" y1="160.4" x2="1204.50" y2="236.8" stroke="#222" stroke-width="1"/>
<rect x="1202.00" y="164.1" width="5" height="40.8" fill="#c1272d"/>
<line x1="1211.50" y1="200.8" x2="1211.50" y2="237.8" stroke="#222" stroke-width="1"/>
<rect x="1209.00" y="205.2" width="5" height="25.4" fill="#c1272d"/>
<line x1="1218.50" y1="219.9" x2="1218.50" y2="228.7" stroke="#222" stroke-width="1"/>
<rect x="1216.00" y="221.1" width="5" height="7.6" fill="#137c87"/>
<line x1="1225.50" y1="219.4" x2="1225.50" y2="240.7" stroke="#222" stroke-width="1"/>
<rect x="1223.00" y="221.1" width="5" height="3.6" fill="#c1272d"/>
<line x1="1232.50" y1="212.1" x2="1232.50" y2="225.5" stroke="#222" stroke-width="1"/>
<rect x="1230.00" y="221.1" width="5" height="3.6" fill="#137c87"/>
<line x1="1239.50" y1="216.0" x2="1239.50" y2="261.8" stroke="#222" stroke-width="1"/>
<rect x="1237.00" y="221.1" width="5" height="38.5" fill="#c1272d"/>
<line x1="1246.50" y1="237.0" x2="1246.50" y2="272.7" stroke="#222" stroke-width="1"/>
<rect x="1244.00" y="240.3" width="5" height="19.4" fill="#137c87"/>
<line x1="1253.50" y1="229.1" x2="1253.50" y2="244.6" stroke="#222" stroke-width="1"/>
<rect x="1251.00" y="236.4" width="5" height="3.3" fill="#137c87"/>
<line x1="1260.50" y1="234.9" x2="1260.50" y2="240.7" stroke="#222" stroke-width="1"/>
<rect x="1258.00" y="237.8" width="5" height="2.9" fill="#c1272d"/>
<line x1="1268.50" y1="233.9" x2="1268.50" y2="256.6" stroke="#222" stroke-width="1"/>
<rect x="1266.00" y="240.3" width="5" height="3.3" fill="#c1272d"/>
<line x1="1275.50" y1="243.1" x2="1275.50" y2="270.0" stroke="#222" stroke-width="1"/>
<rect x="1273.00" y="244.0" width="5" height="25.1" fill="#c1272d"/>
<line x1="1282.50" y1="262.0" x2="1282.50" y2="312.6" stroke="#222" stroke-width="1"/>
<rect x="1280.00" y="268.0" width="5" height="35.7" fill="#c1272d"/>
<line x1="1289.50" y1="291.1" x2="1289.50" y2="332.8" stroke="#222" stroke-width="1"/>
<rect x="1287.00" y="299.4" width="5" height="5.1" fill="#137c87"/>
<line x1="1296.50" y1="284.0" x2="1296.50" y2="312.6" stroke="#222" stroke-width="1"/>
<rect x="1294.00" y="299.4" width="5" height="2.2" fill="#c1272d"/>
<line x1="1303.50" y1="295.8" x2="1303.50" y2="303.7" stroke="#222" stroke-width="1"/>
<rect x="1301.00" y="297.4" width="5" height="2.3" fill="#137c87"/>
<line x1="1310.50" y1="291.1" x2="1310.50" y2="313.6" stroke="#222" stroke-width="1"/>
<rect x="1308.00" y="297.4" width="5" height="2.3" fill="#c1272d"/>
<line x1="1317.50" y1="276.2" x2="1317.50" y2="324.6" stroke="#222" stroke-width="1"/>
<rect x="1315.00" y="297.4" width="5" height="19.3" fill="#c1272d"/>
<line x1="1324.50" y1="299.0" x2="1324.50" y2="373.5" stroke="#222" stroke-width="1"/>
<rect x="1322.00" y="317.4" width="5" height="46.0" fill="#c1272d"/>
<line x1="1331.50" y1="351.0" x2="1331.50" y2="392.5" stroke="#222" stroke-width="1"/>
<rect x="1329.00" y="363.9" width="5" height="15.5" fill="#c1272d"/>
<line x1="1338.50" y1="371.2" x2="1338.50" y2="429.7" stroke="#222" stroke-width="1"/>
<rect x="1336.00" y="379.4" width="5" height="47.4" fill="#c1272d"/>
<line x1="1345.50" y1="424.8" x2="1345.50" y2="437.0" stroke="#222" stroke-width="1"/>
<rect x="1343.00" y="426.8" width="5" height="4.8" fill="#c1272d"/>
<line x1="1352.50" y1="431.2" x2="1352.50" y2="512.9" stroke="#222" stroke-width="1"/>
<rect x="1350.00" y="432.2" width="5" height="71.4" fill="#c1272d"/>
<rect x="20.4" y="490.0" width="13.6" height="50.6" fill="rgba(0,128,0,0.1)" stroke="rgba(0,128,0,0.5)" stroke-width="1.4"/>
<text transform="translate(31.8,580.0) rotate(-90)" font-size="13" fill="#999">Harami</text>
<rect x="62.9" y="435.8" width="13.2" height="58.5" fill="rgba(255,0,0,0.1)" stroke="rgba(255,0,0,0.58)" stroke-width="1.4"/>
<text transform="translate(64.9,389.6) rotate(90)" font-size="13" fill="#999">Harami</text>
<rect x="77.0" y="454.0" width="14.2" height="26.8" fill="rgba(255,0,0,0.1)" stroke="rgba(255,0,0,0.58)" stroke-width="1.4"/>
<text transform="translate(79.5,396.0) rotate(90)" font-size="13" fill="#999">Engulfing</text>
<rect x="99.0" y="428.3" width="13.3" height="39.0" fill="rgba(255,0,0,0.1)" stroke="rgba(255,0,0,0.58)" stroke-width="1.4"/>
<text transform="translate(101.1,381.0) rotate(90)" font-size="13" fill="#999">Harami</text>
<rect x="140.9" y="391.2" width="13.2" height="29.2" fill="rgba(255,0,0,0.1)" stroke="rgba(255,0,0,0.58)" stroke-width="1.4"/>
<text transform="translate(142.9,344.0) rotate(90)" font-size="13" fill="#999">Harami</text>
<rect x="196.5" y="396.5" width="13.5" height="18.3" fill="rgba(255,0,0,0.1)" stroke="rgba(255,0,0,0.58)" stroke-width="1.4"/>
<text transform="translate(198.7,314.0) rotate(90)" font-size="13" fill="#999">Harami Cross</text>
<rect x="301.9" y="349.4" width="13.5" height="33.0" fill="rgba(255,0,0,0.1)" stroke="rgba(255,0,0,0.58)" stroke-width="1.4"/>
<text transform="translate(304.0,303.8) rotate(90)" font-size="13" fill="#999">Harami</text>
<rect x="400.7" y="352.3" width="13.8" height="31.4" fill="rgba(0,128,0,0.1)" stroke="rgba(0,128,0,0.5)" stroke-width="1.4"/>
<text transform="translate(412.2,430.3) rotate(-90)" font-size="13" fill="#999">Harami</text>
<rect x="477.7" y="394.1" width="13.6" height="24.5" fill="rgba(0,128,0,0.1)" stroke="rgba(0,128,0,0.5)" stroke-width="1.4"/>
<text transform="translate(489.1,475.8) rotate(-90)" font-size="13" fill="#999">Engulfing</text>
<rect x="526.5" y="332.8" width="13.8" height="32.0" fill="rgba(255,0,0,0.1)" stroke="rgba(255,0,0,0.58)" stroke-width="1.4"/>
<text transform="translate(528.8,286.5) rotate(90)" font-size="13" fill="#999">Harami</text>
<rect x="554.8" y="330.3" width="13.8" height="21.3" fill="rgba(255,0,0,0.1)" stroke="rgba(255,0,0,0.58)" stroke-width="1.4"/>
<text transform="translate(557.1,272.0) rotate(90)" font-size="13" fill="#999">Engulfing</text>
<rect x="590.0" y="333.4" width="13.5" height="14.1" fill="rgba(255,0,0,0.1)" stroke="rgba(255,0,0,0.58)" stroke-width="1.4"/>
<text transform="translate(592.1,287.2) rotate(90)" font-size="13" fill="#999">Harami</text>
<rect x="751.7" y="184.9" width="13.2" height="105.4" fill="rgba(255,0,0,0.1)" stroke="rgba(255,0,0,0.58)" stroke-width="1.4"/>
<text transform="translate(753.7,127.7) rotate(90)" font-size="13" fill="#999">Engulfing</text>
<rect x="976.5" y="251.6" width="13.9" height="38.7" fill="rgba(0,128,0,0.1)" stroke="rgba(0,128,0,0.5)" stroke-width="1.4"/>
<text transform="translate(988.1,335.8) rotate(-90)" font-size="13" fill="#999">Harami</text>
<rect x="1109.6" y="174.4" width="13.2" height="26.5" fill="rgba(255,0,0,0.1)" stroke="rgba(255,0,0,0.58)" stroke-width="1.4"/>
<text transform="translate(1111.6,92.6) rotate(90)" font-size="13" fill="#999">Harami Cross</text>
<rect x="1137.7" y="159.5" width="13.3" height="21.6" fill="rgba(255,0,0,0.1)" stroke="rgba(255,0,0,0.58)" stroke-width="1.4"/>
<text transform="translate(1139.8,112.5) rotate(90)" font-size="13" fill="#999">Harami</text>
<rect x="1208.0" y="199.3" width="13.2" height="41.4" fill="rgba(0,128,0,0.1)" stroke="rgba(0,128,0,0.5)" stroke-width="1.4"/>
<text transform="translate(1219.2,287.1) rotate(-90)" font-size="13" fill="#999">Harami</text>
<path d="M0.0,389.6 C2.6,392.0 10.7,399.1 15.7,403.8 C20.7,408.5 25.2,412.1 29.9,417.9 C34.6,423.7 38.5,433.4 44.0,438.4 C49.5,443.4 57.6,445.2 62.9,447.8 C68.2,450.4 71.8,452.8 75.5,454.1 C79.2,455.4 81.8,456.5 84.9,455.7 C88.0,454.9 90.6,452.5 94.3,449.4 C98.0,446.2 101.7,440.5 106.9,436.8 C112.2,433.1 120.5,431.1 125.8,427.4 C131.1,423.7 133.7,420.8 138.4,414.8 C143.1,408.8 148.6,397.8 154.1,391.2 C159.6,384.6 167.2,378.4 171.4,375.5 C175.6,372.6 175.3,373.6 179.2,373.9 C183.1,374.1 189.2,377.1 195.0,377.0 C200.8,376.9 208.0,373.3 213.8,373.3 C219.6,373.3 223.3,376.1 229.6,377.0 C235.9,377.9 244.8,376.9 251.6,378.6 C258.4,380.3 264.6,387.4 270.4,387.4 C276.2,387.4 280.9,381.9 286.2,378.6 C291.4,375.3 297.2,371.3 301.9,367.6 C306.6,363.9 309.3,360.0 314.5,356.6 C319.7,353.2 329.1,349.3 333.3,347.2 C337.6,345.1 336.8,344.8 340.0,343.8 C343.2,342.8 347.9,341.9 352.6,341.3 C357.3,340.7 364.4,339.6 368.3,340.0 C372.2,340.4 371.5,343.6 376.2,343.8 C380.9,344.0 390.8,340.5 396.6,341.3 C402.4,342.1 405.0,346.7 410.8,348.5 C416.6,350.3 426.5,351.9 431.2,352.3 C435.9,352.7 435.4,354.0 439.1,351.0 C442.8,348.0 448.2,338.4 453.2,334.3 C458.2,330.2 463.1,327.3 468.9,326.5 C474.7,325.7 481.0,328.1 487.8,329.6 C494.6,331.1 503.5,334.6 509.8,335.3 C516.1,336.0 519.2,335.7 525.5,333.7 C531.8,331.7 540.1,326.6 547.5,323.3 C554.9,320.0 562.2,316.7 569.6,313.9 C577.0,311.1 586.9,307.8 591.6,306.7 C596.3,305.6 594.5,306.3 597.7,307.0 C600.9,307.7 606.7,309.2 610.8,311.1 C614.9,313.0 618.8,316.8 622.4,318.4 C626.0,320.0 629.9,319.6 632.6,320.5 C635.3,321.4 635.8,322.3 638.4,323.5 C641.0,324.7 645.4,328.2 648.5,327.8 C651.6,327.4 652.6,324.6 657.2,321.3 C661.8,318.0 669.3,314.5 676.1,308.2 C682.9,301.9 690.6,289.8 697.9,283.5 C705.2,277.2 712.5,274.6 719.7,270.5 C727.0,266.4 736.0,264.2 741.4,258.9 C746.8,253.5 748.9,243.4 752.3,238.4 C755.7,233.4 758.6,231.0 761.8,228.9 C764.9,226.8 767.5,225.9 771.2,225.8 C774.9,225.7 777.0,227.8 783.8,228.3 C790.6,228.8 802.7,229.4 812.1,228.9 C821.5,228.4 833.9,226.4 840.0,225.4 C846.1,224.4 845.6,224.0 848.7,223.2 C851.9,222.3 855.5,220.7 858.9,220.3 C862.3,219.9 865.2,221.0 869.0,221.0 C872.8,221.0 878.2,219.6 881.4,220.3 C884.5,221.0 885.6,223.6 887.9,225.4 C890.2,227.2 893.0,230.2 895.2,231.2 C897.4,232.2 898.7,230.7 901.0,231.2 C903.3,231.7 906.5,234.2 908.9,234.1 C911.3,234.0 913.2,231.1 915.5,230.5 C917.8,229.9 919.6,229.9 922.7,230.5 C925.8,231.1 931.1,233.7 934.3,234.1 C937.4,234.5 938.9,233.4 941.6,233.1 C944.3,232.8 947.2,232.7 950.3,232.2 C953.4,231.7 954.7,231.0 960.0,230.0 C965.3,229.0 976.1,227.0 981.9,226.4 C987.6,225.8 990.8,226.0 994.5,226.4 C998.2,226.8 996.3,229.0 1003.9,228.9 C1011.5,228.8 1031.2,226.9 1040.0,225.8 C1048.8,224.7 1051.1,223.9 1056.6,222.5 C1062.1,221.1 1068.1,220.0 1073.1,217.5 C1078.1,215.0 1080.9,213.4 1086.4,207.6 C1091.9,201.8 1099.7,189.0 1106.3,182.7 C1112.9,176.3 1119.5,174.2 1126.1,169.5 C1132.7,164.8 1139.9,158.4 1146.0,154.6 C1152.1,150.8 1157.1,148.2 1162.6,146.9 C1168.1,145.6 1173.7,146.6 1179.2,146.9 C1184.7,147.2 1191.6,147.9 1195.7,148.6 C1199.8,149.3 1200.1,151.3 1204.0,151.2 C1207.9,151.1 1214.2,149.0 1218.9,147.9 C1223.6,146.8 1228.3,146.6 1232.2,144.6 C1236.1,142.6 1238.8,137.6 1242.1,135.7 C1245.4,133.8 1247.7,133.2 1252.1,133.0 C1256.5,132.8 1263.6,135.1 1268.6,134.7 C1273.6,134.3 1277.5,130.1 1281.9,130.4 C1286.3,130.7 1291.2,133.9 1295.1,136.3 C1299.0,138.7 1301.8,142.1 1305.1,144.6 C1308.4,147.1 1311.7,150.2 1315.0,151.2 C1318.3,152.2 1322.0,150.0 1325.0,150.6 C1328.0,151.2 1330.5,153.9 1333.2,154.6 C1336.0,155.3 1339.6,154.9 1341.5,154.6 C1343.4,154.3 1343.0,155.5 1344.8,152.9 C1346.6,150.3 1350.9,141.3 1352.1,139.0" fill="none" stroke="#8e2157" stroke-width="1.3"/>
<path d="M0.0,532.7 C3.1,533.8 12.6,537.2 18.9,539.0 C25.2,540.8 31.4,543.3 37.7,543.7 C44.0,544.1 49.2,542.8 56.6,541.5 C64.0,540.2 74.5,535.9 81.8,535.8 C89.1,535.6 93.3,540.1 100.6,540.6 C107.9,541.1 118.5,538.0 125.8,539.0 C133.2,540.0 139.5,545.9 144.7,546.9 C149.9,547.9 152.0,548.7 157.2,545.3 C162.4,541.9 170.8,532.7 176.1,526.4 C181.3,520.1 184.5,513.8 188.7,507.5 C192.9,501.2 196.1,493.9 201.3,488.7 C206.5,483.5 214.3,480.8 220.1,476.1 C225.8,471.4 230.6,465.1 235.8,460.4 C241.1,455.7 245.8,453.6 251.6,447.8 C257.4,442.0 263.1,429.0 270.4,425.8 C277.7,422.6 288.2,427.1 295.6,428.9 C303.0,430.7 308.2,436.0 314.5,436.8 C320.8,437.6 329.1,434.3 333.3,433.6 C337.6,432.9 336.8,433.3 340.0,432.5 C343.2,431.7 347.9,430.9 352.6,428.7 C357.3,426.5 364.4,422.6 368.3,419.2 C372.2,415.8 371.5,411.6 376.2,408.2 C380.9,404.8 391.1,402.2 396.6,398.8 C402.1,395.4 405.0,391.2 409.2,387.8 C413.4,384.4 417.6,380.6 421.8,378.4 C426.0,376.2 431.2,375.0 434.3,374.6 C437.4,374.2 437.5,372.6 440.6,375.8 C443.8,379.1 447.9,386.1 453.2,394.1 C458.4,402.1 466.9,418.0 472.1,424.0 C477.4,430.0 478.4,428.9 484.7,430.3 C491.0,431.7 501.4,431.5 509.8,432.5 C518.2,433.5 526.6,435.3 535.0,436.5 C543.4,437.7 552.8,439.2 560.1,439.7 C567.4,440.2 573.8,441.3 579.0,439.7 C584.2,438.1 586.4,435.8 591.6,430.3 C596.8,424.8 604.1,414.8 610.4,406.7 C616.7,398.6 623.0,389.7 629.3,381.5 C635.6,373.3 641.9,360.7 648.2,357.3 C654.5,353.9 660.7,359.3 667.0,361.1 C673.3,362.9 680.4,367.0 685.9,368.3 C691.4,369.6 691.3,370.3 700.0,368.9 C708.7,367.5 728.4,361.8 738.2,360.0 C748.0,358.2 753.1,359.8 758.6,357.9 C764.1,356.0 767.0,351.8 771.2,348.4 C775.4,345.0 779.6,339.2 783.8,337.4 C788.0,335.6 791.7,338.2 796.4,337.4 C801.1,336.6 805.3,334.5 812.1,332.7 C818.9,330.9 829.4,327.9 837.2,326.4 C845.1,324.9 852.1,324.4 859.2,323.9 C866.3,323.4 874.7,323.9 879.7,323.3 C884.7,322.7 886.7,320.9 889.3,320.0 C891.9,319.1 893.0,318.2 895.2,317.6 C897.4,317.0 900.2,316.2 902.4,316.1 C904.6,316.0 906.0,316.8 908.2,316.8 C910.4,316.8 913.3,316.7 915.5,316.1 C917.7,315.5 919.4,314.6 921.3,313.2 C923.2,311.8 924.9,309.8 927.1,307.4 C929.3,305.0 931.9,301.1 934.3,298.7 C936.7,296.3 938.7,294.9 941.6,292.9 C944.5,290.8 948.7,287.7 951.8,286.4 C954.9,285.1 956.0,285.6 960.0,284.9 C964.0,284.2 970.9,282.3 975.6,282.4 C980.3,282.5 983.0,286.3 988.2,285.5 C993.4,284.7 1000.7,279.8 1007.0,277.7 C1013.3,275.6 1020.4,273.9 1025.9,273.0 C1031.4,272.1 1032.1,271.9 1040.0,272.2 C1047.9,272.5 1064.8,273.0 1073.1,274.8 C1081.4,276.6 1083.1,280.6 1089.7,282.8 C1096.3,285.0 1105.7,289.3 1112.9,288.1 C1120.1,286.9 1125.6,279.3 1132.8,275.5 C1140.0,271.7 1148.3,270.2 1156.0,265.5 C1163.7,260.8 1171.2,254.6 1179.2,247.3 C1187.2,240.0 1197.4,225.1 1204.0,221.8 C1210.6,218.5 1213.7,224.8 1218.9,227.4 C1224.2,230.0 1229.4,233.0 1235.5,237.4 C1241.6,241.8 1248.8,248.2 1255.4,254.0 C1262.0,259.8 1270.3,265.3 1275.3,272.2 C1280.3,279.1 1280.8,287.7 1285.2,295.4 C1289.6,303.1 1296.3,311.4 1301.8,318.6 C1307.3,325.8 1314.3,331.5 1318.3,338.4 C1322.3,345.3 1322.6,351.6 1325.8,360.0 C1329.0,368.4 1334.2,378.7 1337.4,389.0 C1340.6,399.3 1342.7,410.6 1345.2,422.0 C1347.7,433.4 1351.3,451.6 1352.5,457.5" fill="none" stroke="#8e2157" stroke-width="1.3"/>
<polyline points="0,460.4 2,461.9 4,463.4 6,464.9 8,466.4 10,467.9 12,469.3 14,470.8 16,472.2 18,473.6 20,475.0 22,476.4 24,477.7 26,479.0 28,480.2 30,481.5 32,482.7 34,484.0 36,485.2 38,486.4 40,487.6 42,488.6 44,489.5 46,490.4 48,491.1 50,491.7 52,492.2 54,492.8 56,493.2 58,493.7 60,494.1 62,494.4 64,494.7 66,494.9 68,495.1 70,495.2 72,495.2 74,495.3 76,495.3 78,495.4 80,495.3 82,495.2 84,495.0 86,494.8 88,494.4 90,493.9 92,493.3 94,492.7 96,492.1 98,491.5 100,490.9 102,490.3 104,489.6 106,489.0 108,488.5 110,487.9 112,487.3 114,486.8 116,486.2 118,485.7 120,485.1 122,484.6 124,484.0 126,483.4 128,482.8 130,482.1 132,481.3 134,480.4 136,479.5 138,478.5 140,477.4 142,476.3 144,475.2 146,474.1 148,472.9 150,471.7 152,470.5 154,469.2 156,468.0 158,466.6 160,465.3 162,464.0 164,462.6 166,461.3 168,459.9 170,458.5 172,457.1 174,455.6 176,454.2 178,452.7 180,451.2 182,449.7 184,448.2 186,446.7 188,445.2 190,443.7 192,442.2 194,440.7 196,439.2 198,437.7 200,436.2 202,434.8 204,433.4 206,432.1 208,430.9 210,429.8 212,428.8 214,427.9 216,427.0 218,426.1 220,425.3 222,424.5 224,423.7 226,422.9 228,422.2 230,421.5 232,420.8 234,420.1 236,419.4 238,418.8 240,418.1 242,417.4 244,416.7 246,415.9 248,415.1 250,414.3 252,413.4 254,412.5 256,411.7 258,410.8 260,409.9 262,409.0 264,408.2 266,407.4 268,406.6 270,405.9 272,405.3 274,404.8 276,404.3 278,403.8 280,403.4 282,403.0 284,402.6 286,402.2 288,401.8 290,401.4 292,401.0 294,400.6 296,400.2 298,399.8 300,399.4 302,398.9 304,398.3 306,397.8 308,397.2 310,396.6 312,396.0 314,395.4 316,394.8 318,394.2 320,393.6 322,393.0 324,392.4 326,391.8 328,391.2 330,390.7 332,390.1 334,389.6 336,389.1 338,388.6 340,388.1 342,387.5 344,386.8 346,386.2 348,385.5 350,384.7 352,384.0 354,383.3 356,382.5 358,381.7 360,380.9 362,380.1 364,379.3 366,378.5 368,377.6 370,376.8 372,375.9 374,375.1 376,374.3 378,373.5 380,372.8 382,372.2 384,371.6 386,371.1 388,370.6 390,370.2 392,369.7 394,369.3 396,368.9 398,368.5 400,368.1 402,367.7 404,367.4 406,367.0 408,366.7 410,366.4 412,366.1 414,365.9 416,365.6 418,365.4 420,365.2 422,365.0 424,364.8 426,364.6 428,364.4 430,364.3 432,364.2 434,364.2 436,364.3 438,364.5 440,364.9 442,365.3 444,365.9 446,366.5 448,367.2 450,367.8 452,368.5 454,369.2 456,369.8 458,370.5 460,371.2 462,371.8 464,372.5 466,373.2 468,373.8 470,374.5 472,375.1 474,375.7 476,376.4 478,377.0 480,377.6 482,378.2 484,378.8 486,379.3 488,379.9 490,380.3 492,380.8 494,381.1 496,381.4 498,381.7 500,381.9 502,382.2 504,382.4 506,382.6 508,382.7 510,382.8 512,382.8 514,382.8 516,382.7 518,382.6 520,382.5 522,382.4 524,382.3 526,382.2 528,382.0 530,381.8 532,381.5 534,381.3 536,381.0 538,380.7 540,380.4 542,380.1 544,379.8 546,379.5 548,379.3 550,379.0 552,378.7 554,378.4 556,378.1 558,377.8 560,377.5 562,377.2 564,376.9 566,376.6 568,376.3 570,375.9 572,375.6 574,375.2 576,374.8 578,374.3 580,373.7 582,373.0 584,372.2 586,371.3 588,370.4 590,369.4 592,368.4 594,367.4 596,366.3 598,365.1 600,364.0 602,362.8 604,361.7 606,360.6 608,359.5 610,358.4 612,357.4 614,356.4 616,355.5 618,354.6 620,353.7 622,352.8 624,352.0 626,351.1 628,350.2 630,349.4 632,348.6 634,347.8 636,347.0 638,346.3 640,345.6 642,344.9 644,344.3 646,343.7 648,343.1 650,342.4 652,341.8 654,341.2 656,340.6 658,339.9 660,339.3 662,338.7 664,338.0 666,337.3 668,336.7 670,336.0 672,335.3 674,334.7 676,334.0 678,333.3 680,332.5 682,331.8 684,331.0 686,330.2 688,329.4 690,328.6 692,327.8 694,327.0 696,326.3 698,325.5 700,324.7 702,323.8 704,323.0 706,322.2 708,321.4 710,320.5 712,319.6 714,318.7 716,317.8 718,316.8 720,315.8 722,314.8 724,313.8 726,312.8 728,311.8 730,310.8 732,309.8 734,308.8 736,307.8 738,306.8 740,305.7 742,304.6 744,303.4 746,302.2 748,300.9 750,299.6 752,298.3 754,297.0 756,295.7 758,294.4 760,293.2 762,292.0 764,290.9 766,289.8 768,288.7 770,287.7 772,286.7 774,285.8 776,284.9 778,284.1 780,283.5 782,283.0 784,282.6 786,282.4 788,282.2 790,282.1 792,282.0 794,281.9 796,281.8 798,281.7 800,281.5 802,281.4 804,281.1 806,280.9 808,280.6 810,280.3 812,280.1 814,279.8 816,279.5 818,279.2 820,278.8 822,278.5 824,278.1 826,277.8 828,277.4 830,277.0 832,276.7 834,276.3 836,275.9 838,275.6 840,275.2 842,274.9 844,274.6 846,274.3 848,274.0 850,273.8 852,273.5 854,273.3 856,273.1 858,272.9 860,272.7 862,272.6 864,272.6 866,272.5 868,272.6 870,272.6 872,272.7 874,272.7 876,272.8 878,272.9 880,273.0 882,273.1 884,273.3 886,273.4 888,273.6 890,273.8 892,273.9 894,274.1 896,274.3 898,274.4 900,274.6 902,274.7 904,274.7 906,274.6 908,274.5 910,274.3 912,274.0 914,273.6 916,273.2 918,272.8 920,272.4 922,271.9 924,271.3 926,270.7 928,270.0 930,269.2 932,268.3 934,267.5 936,266.6 938,265.7 940,264.9 942,264.0 944,263.3 946,262.5 948,261.8 950,261.2 952,260.6 954,259.9 956,259.4 958,258.8 960,258.3 962,257.8 964,257.4 966,257.1 968,256.8 970,256.6 972,256.4 974,256.2 976,256.0 978,255.8 980,255.7 982,255.5 984,255.4 986,255.2 988,255.1 990,255.0 992,254.8 994,254.6 996,254.5 998,254.3 1000,254.0 1002,253.8 1004,253.6 1006,253.4 1008,253.1 1010,252.9 1012,252.7 1014,252.4 1016,252.2 1018,252.0 1020,251.8 1022,251.6 1024,251.3 1026,251.1 1028,250.9 1030,250.7 1032,250.5 1034,250.3 1036,250.1 1038,249.9 1040,249.7 1042,249.5 1044,249.3 1046,249.2 1048,249.0 1050,248.8 1052,248.7 1054,248.5 1056,248.3 1058,248.1 1060,247.9 1062,247.6 1064,247.2 1066,246.9 1068,246.5 1070,246.1 1072,245.7 1074,245.3 1076,244.8 1078,244.4 1080,244.0 1082,243.5 1084,243.0 1086,242.5 1088,241.9 1090,241.3 1092,240.7 1094,240.1 1096,239.5 1098,238.8 1100,238.1 1102,237.5 1104,236.7 1106,235.9 1108,235.0 1110,234.0 1112,232.9 1114,231.7 1116,230.4 1118,229.1 1120,227.7 1122,226.4 1124,225.0 1126,223.6 1128,222.2 1130,220.8 1132,219.4 1134,218.1 1136,216.7 1138,215.4 1140,214.2 1142,212.9 1144,211.6 1146,210.4 1148,209.2 1150,208.0 1152,206.8 1154,205.6 1156,204.4 1158,203.3 1160,202.3 1162,201.4 1164,200.5 1166,199.7 1168,199.0 1170,198.3 1172,197.6 1174,196.9 1176,196.3 1178,195.6 1180,194.9 1182,194.2 1184,193.5 1186,192.7 1188,191.9 1190,191.1 1192,190.3 1194,189.6 1196,188.8 1198,188.2 1200,187.6 1202,187.0 1204,186.6 1206,186.3 1208,186.1 1210,186.0 1212,186.0 1214,186.1 1216,186.2 1218,186.4 1220,186.7 1222,187.0 1224,187.4 1226,187.8 1228,188.2 1230,188.7 1232,189.4 1234,190.1 1236,190.9 1238,191.7 1240,192.5 1242,193.4 1244,194.3 1246,195.1 1248,196.0 1250,196.8 1252,197.6 1254,198.4 1256,199.2 1258,200.0 1260,200.8 1262,201.6 1264,202.4 1266,203.2 1268,204.1 1270,205.1 1272,206.1 1274,207.3 1276,208.7 1278,210.2 1280,211.9 1282,213.7 1284,215.5 1286,217.3 1288,219.2 1290,221.0 1292,222.9 1294,224.7 1296,226.6 1298,228.4 1300,230.3 1302,232.1 1304,233.9 1306,235.8 1308,237.7 1310,239.6 1312,241.5 1314,243.6 1316,245.8 1318,248.0 1320,250.4 1322,252.9 1324,255.6 1326,258.3 1328,261.3 1330,264.4 1332,267.7 1334,271.0 1336,274.3 1338,277.6 1340,280.7 1342,283.8 1344,286.7 1346,289.5 1348,292.3 1350,295.1 1352,297.9 1352.1,298.0" fill="none" stroke="#0a7ec2" stroke-width="2.2" stroke-opacity="0.92" stroke-linejoin="round"/>
<line x1="1155.3" y1="157.9" x2="1407.8" y2="173.4" stroke="#c43a3a" stroke-width="1.6"/>
<rect x="0" y="549" width="460" height="63" fill="#fff" fill-opacity="0.7"/>
<text x="9.2" y="565" font-size="10" fill="#222"><tspan font-weight="bold">CANDLE PTNS</tspan> 12</text>
<g transform="translate(106,562)" fill="#999"><rect x="-1.3" y="-6" width="2.6" height="3" transform="rotate(0)"/><rect x="-1.3" y="-6" width="2.6" height="3" transform="rotate(45)"/><rect x="-1.3" y="-6" width="2.6" height="3" transform="rotate(90)"/><rect x="-1.3" y="-6" width="2.6" height="3" transform="rotate(135)"/><rect x="-1.3" y="-6" width="2.6" height="3" transform="rotate(180)"/><rect x="-1.3" y="-6" width="2.6" height="3" transform="rotate(225)"/><rect x="-1.3" y="-6" width="2.6" height="3" transform="rotate(270)"/><rect x="-1.3" y="-6" width="2.6" height="3" transform="rotate(315)"/><circle r="4" /><circle r="1.8" fill="#fff"/></g>
<path d="M119.2,558.2 L126.8,565.8 M126.8,558.2 L119.2,565.8" stroke="#999" stroke-width="2.8"/>
<text x="141.3" y="565" font-size="10" fill="#222"><tspan font-weight="bold">PRO TRENDS</tspan><tspan word-spacing="0.75"> 150 3 10 2 14 2 3 8</tspan></text>
<g transform="translate(311,562)" fill="#999"><rect x="-1.3" y="-6" width="2.6" height="3" transform="rotate(0)"/><rect x="-1.3" y="-6" width="2.6" height="3" transform="rotate(45)"/><rect x="-1.3" y="-6" width="2.6" height="3" transform="rotate(90)"/><rect x="-1.3" y="-6" width="2.6" height="3" transform="rotate(135)"/><rect x="-1.3" y="-6" width="2.6" height="3" transform="rotate(180)"/><rect x="-1.3" y="-6" width="2.6" height="3" transform="rotate(225)"/><rect x="-1.3" y="-6" width="2.6" height="3" transform="rotate(270)"/><rect x="-1.3" y="-6" width="2.6" height="3" transform="rotate(315)"/><circle r="4" /><circle r="1.8" fill="#fff"/></g>
<path d="M324.2,558.2 L331.8,565.8 M331.8,558.2 L324.2,565.8" stroke="#999" stroke-width="2.8"/>
<text x="346.6" y="565" font-size="10" fill="#222"><tspan font-weight="bold">VWAP</tspan><tspan word-spacing="0.6"> 20 1 2 3</tspan></text>
<g transform="translate(428,562)" fill="#999"><rect x="-1.3" y="-6" width="2.6" height="3" transform="rotate(0)"/><rect x="-1.3" y="-6" width="2.6" height="3" transform="rotate(45)"/><rect x="-1.3" y="-6" width="2.6" height="3" transform="rotate(90)"/><rect x="-1.3" y="-6" width="2.6" height="3" transform="rotate(135)"/><rect x="-1.3" y="-6" width="2.6" height="3" transform="rotate(180)"/><rect x="-1.3" y="-6" width="2.6" height="3" transform="rotate(225)"/><rect x="-1.3" y="-6" width="2.6" height="3" transform="rotate(270)"/><rect x="-1.3" y="-6" width="2.6" height="3" transform="rotate(315)"/><circle r="4" /><circle r="1.8" fill="#fff"/></g>
<path d="M441.2,558.2 L448.8,565.8 M448.8,558.2 L441.2,565.8" stroke="#999" stroke-width="2.8"/>
<text x="9.2" y="594" font-size="10" fill="#aaa">TODAY:</text>
<text x="62" y="594" font-size="10" fill="#aaa">H:</text>
<text x="75.8" y="594" font-size="10" fill="#333">146.665</text>
<text x="122.2" y="594" font-size="10" fill="#aaa">L:</text>
<text x="133" y="594" font-size="10" fill="#333">141.694</text>
<text x="184.2" y="594" font-size="10" fill="#d0343a">-4.357</text>
<text x="233.3" y="594" font-size="10" fill="#d0343a">-3.0%</text>
<text x="9.2" y="608" font-size="10" fill="#aaa">CHART:</text>
<text x="62" y="608" font-size="10" fill="#aaa">H:</text>
<text x="75.8" y="608" font-size="10" fill="#333">161.952</text>
<text x="122.2" y="608" font-size="10" fill="#aaa">L:</text>
<text x="133" y="608" font-size="10" fill="#333">140.253</text>
<text x="184.2" y="608" font-size="10" fill="#d0343a">-1.287</text>
<text x="233.3" y="608" font-size="10" fill="#d0343a">-0.9%</text>
<rect x="1440.0" y="75" width="59.5" height="645" fill="#fff"/>
<line x1="1439.5" y1="75" x2="1439.5" y2="699" stroke="#7f7f7f" stroke-width="1"/>
<line x1="1440" y1="105.5" x2="1443" y2="105.5" stroke="#888" stroke-width="1"/>
<text x="1446" y="107.9" font-size="9.8" fill="#444">165</text>
<line x1="1440" y1="192.5" x2="1443" y2="192.5" stroke="#888" stroke-width="1"/>
<text x="1446" y="194.9" font-size="9.8" fill="#444">160</text>
<line x1="1440" y1="280.5" x2="1443" y2="280.5" stroke="#888" stroke-width="1"/>
<text x="1446" y="282.9" font-size="9.8" fill="#444">155</text>
<line x1="1440" y1="368.5" x2="1443" y2="368.5" stroke="#888" stroke-width="1"/>
<text x="1446" y="370.9" font-size="9.8" fill="#444">150</text>
<line x1="1440" y1="455.5" x2="1443" y2="455.5" stroke="#888" stroke-width="1"/>
<text x="1446" y="457.9" font-size="9.8" fill="#444">145</text>
<line x1="1440" y1="542.5" x2="1443" y2="542.5" stroke="#888" stroke-width="1"/>
<text x="1446" y="544.9" font-size="9.8" fill="#444">140</text>
<path d="M1440,138.9 L1450,131.1 H1492.7 Q1494.7,131.1 1494.7,133.1 V144.70000000000002 Q1494.7,146.70000000000002 1492.7,146.70000000000002 H1450 Z" fill="#7e003a"/>
<text x="1491.5" y="142.5" font-size="10" font-weight="bold" fill="#fff" text-anchor="end">163.034</text>
<path d="M1440,298.3 L1450,290.5 H1492.7 Q1494.7,290.5 1494.7,292.5 V304.1 Q1494.7,306.1 1492.7,306.1 H1450 Z" fill="#137ac4"/>
<text x="1491.5" y="301.90000000000003" font-size="10" font-weight="bold" fill="#fff" text-anchor="end">153.949</text>
<path d="M1440,457.5 L1450,449.7 H1492.7 Q1494.7,449.7 1494.7,451.7 V463.3 Q1494.7,465.3 1492.7,465.3 H1450 Z" fill="#7e003a"/>
<text x="1491.5" y="461.1" font-size="10" font-weight="bold" fill="#fff" text-anchor="end">144.863</text>
<path d="M1440,503.6 L1450,495.8 H1492.7 Q1494.7,495.8 1494.7,497.8 V509.40000000000003 Q1494.7,511.40000000000003 1492.7,511.40000000000003 H1450 Z" fill="#6b62b8"/>
<text x="1491.5" y="507.20000000000005" font-size="10" font-weight="bold" fill="#fff" text-anchor="end">142.243</text>
<line x1="0" y1="621.5" x2="1439.5" y2="621.5" stroke="#777" stroke-width="1"/>
<rect x="0" y="622" width="1439" height="76" fill="none"/>
<line x1="0" y1="648.5" x2="1439.5" y2="648.5" stroke="#cccccc" stroke-width="1"/>
<rect x="4.2" y="647.4" width="71.4" height="8.6" fill="#fff"/>
<line x1="0" y1="672.5" x2="1439.5" y2="672.5" stroke="#c8c8c8" stroke-width="1"/>
<line x1="1440" y1="648.5" x2="1443" y2="648.5" stroke="#888" stroke-width="1"/>
<text x="1446" y="651.6" font-size="10" fill="#444">80</text>
<path d="M740.1,648 L740.1,646.2 748.9,643.6 755.2,643.4 760.5,648 Z" fill="#bbb"/>
<path d="M1325.5,672.5 L1338.1,674.3 1345.7,674.3 1352.8,675.8 L1352.8,672.5 Z" fill="#bbb"/>
<polyline points="0.0,666.5 10.1,665.7 17.7,664.9 25.3,666.7 33.0,667.0 44.4,667.5 53.2,663.7 60.8,660.6 67.2,657.6 81.1,657.6 88.7,659.4 96.3,658.1 102.7,655.6 109.0,657.3 116.6,658.1 129.3,655.6 138.1,653.0 144.5,651.8 177.4,651.8 187.6,654.5 202.8,653.0 207.9,653.0 215.5,656.1 225.6,657.6 235.7,660.1 243.3,654.8 256.0,653.8 263.6,657.3 271.2,656.3 278.8,653.5 291.5,654.3 299.1,653.0 306.7,650.5 311.8,651.2 320.7,654.3 329.5,653.8 339.7,653.8 347.3,655.0 357.4,653.8 370.0,653.5 382.7,653.0 390.3,653.5 396.6,652.5 404.2,656.6 418.2,656.3 424.5,654.8 432.1,658.1 446.0,666.5 453.7,668.2 467.6,668.5 473.9,664.2 481.5,664.2 495.5,658.6 508.2,658.6 515.8,653.5 523.4,654.5 529.7,652.5 537.3,653.8 557.6,653.3 565.2,654.5 580.4,654.8 593.1,653.5 608.3,653.8 614.6,655.3 621.0,654.3 633.6,653.8 642.5,654.3 650.1,650.2 657.7,649.0 670.4,649.0 678.0,647.2 685.6,646.4 691.9,649.2 699.5,648.5 712.2,648.7 727.4,648.0 740.1,646.2 748.9,643.6 755.2,643.4 762.8,653.0 769.2,650.5 776.8,656.8 784.4,661.4 790.7,662.1 800.8,660.9 818.6,656.8 826.2,657.3 833.8,656.6 846.5,655.3 854.1,655.0 860.4,660.1 869.3,658.1 880.7,657.6 889.6,656.6 897.2,656.8 904.8,655.3 914.9,654.8 925.0,655.3 932.6,655.0 944.1,653.5 951.7,656.8 958.0,655.3 965.6,655.3 979.5,662.9 987.1,660.1 993.5,660.9 1001.1,658.1 1018.8,656.8 1029.0,658.1 1044.2,656.3 1056.9,655.3 1070.8,654.3 1079.7,651.8 1089.8,650.5 1100.0,651.0 1110.0,649.7 1113.8,648.7 1125.2,648.2 1135.3,648.7 1141.7,647.7 1155.6,647.4 1162.0,649.7 1169.6,653.0 1183.5,653.0 1191.1,651.2 1197.5,650.5 1205.1,661.4 1211.4,664.9 1219.0,662.9 1226.6,663.4 1232.9,662.4 1240.5,667.2 1248.2,663.4 1254.5,662.7 1268.4,663.9 1282.4,669.2 1288.7,668.5 1296.3,668.5 1305.2,667.5 1311.5,667.7 1317.9,669.5 1325.5,672.3 1338.1,674.3 1345.7,674.3 1352.8,675.8" fill="none" stroke="#222" stroke-width="1.2"/>
<text x="9" y="647" font-size="10" fill="#222"><tspan font-weight="bold">RSI</tspan> 14</text>
<g transform="translate(51,645)" fill="#999"><rect x="-1.3" y="-6" width="2.6" height="3" transform="rotate(0)"/><rect x="-1.3" y="-6" width="2.6" height="3" transform="rotate(45)"/><rect x="-1.3" y="-6" width="2.6" height="3" transform="rotate(90)"/><rect x="-1.3" y="-6" width="2.6" height="3" transform="rotate(135)"/><rect x="-1.3" y="-6" width="2.6" height="3" transform="rotate(180)"/><rect x="-1.3" y="-6" width="2.6" height="3" transform="rotate(225)"/><rect x="-1.3" y="-6" width="2.6" height="3" transform="rotate(270)"/><rect x="-1.3" y="-6" width="2.6" height="3" transform="rotate(315)"/><circle r="4" /><circle r="1.8" fill="#fff"/></g>
<path d="M64.2,641.2 L71.8,648.8 M71.8,641.2 L64.2,648.8" stroke="#999" stroke-width="2.8"/>
<path d="M1440.5,676 L1448,668.7 H1480.6 Q1482.6,668.7 1482.6,670.7 V681.3 Q1482.6,683.3 1480.6,683.3 H1448 Z" fill="#000"/>
<text x="1480" y="679.6" font-size="10" font-weight="bold" fill="#fff" text-anchor="end">10.13</text>
<line x1="0" y1="698.5" x2="1439.5" y2="698.5" stroke="#777" stroke-width="1"/>
<line x1="42.5" y1="698" x2="42.5" y2="703" stroke="#888" stroke-width="1"/>
<text x="42.5" y="713.6" font-size="12.5" fill="#555" text-anchor="middle">2024</text>
<line x1="235.5" y1="698" x2="235.5" y2="703" stroke="#888" stroke-width="1"/>
<text x="235.5" y="713.6" font-size="12.5" fill="#555" text-anchor="middle">Feb</text>
<line x1="411.5" y1="698" x2="411.5" y2="703" stroke="#888" stroke-width="1"/>
<text x="411.5" y="713.6" font-size="12.5" fill="#555" text-anchor="middle">Mar</text>
<line x1="593.5" y1="698" x2="593.5" y2="703" stroke="#888" stroke-width="1"/>
<text x="593.5" y="713.6" font-size="12.5" fill="#555" text-anchor="middle">Apr</text>
<line x1="776.5" y1="698" x2="776.5" y2="703" stroke="#888" stroke-width="1"/>
<text x="776.5" y="713.6" font-size="12.5" fill="#555" text-anchor="middle">May</text>
<line x1="966.5" y1="698" x2="966.5" y2="703" stroke="#888" stroke-width="1"/>
<text x="966.5" y="713.6" font-size="12.5" fill="#555" text-anchor="middle">Jun</text>
<line x1="1141.5" y1="698" x2="1141.5" y2="703" stroke="#888" stroke-width="1"/>
<text x="1141.5" y="713.6" font-size="12.5" fill="#555" text-anchor="middle">Jul</text>
<line x1="1331.5" y1="698" x2="1331.5" y2="703" stroke="#888" stroke-width="1"/>
<text x="1331.5" y="713.6" font-size="12.5" fill="#555" text-anchor="middle">Aug</text>
<g stroke="#999" fill="none" stroke-width="1.25"><rect x="37.4" y="736.6" width="17.2" height="11.1" rx="2"/><line x1="43" y1="734.6" x2="43" y2="737.4"/><line x1="49" y1="734.6" x2="49" y2="737.4"/></g><text x="46" y="746" font-size="9.7" fill="#bdbdbd" text-anchor="middle">3</text>
<g stroke="#999" fill="none" stroke-width="1.25"><rect x="80.4" y="736.6" width="17.2" height="11.1" rx="2"/><line x1="86" y1="734.6" x2="86" y2="737.4"/><line x1="92" y1="734.6" x2="92" y2="737.4"/></g><text x="89" y="746" font-size="9.7" fill="#bdbdbd" text-anchor="middle">5</text>
<g stroke="#999" fill="none" stroke-width="1.25"><rect x="122.4" y="736.6" width="17.2" height="11.1" rx="2"/><line x1="128" y1="734.6" x2="128" y2="737.4"/><line x1="134" y1="734.6" x2="134" y2="737.4"/></g><text x="131" y="746" font-size="9.7" fill="#bdbdbd" text-anchor="middle">6</text>
<g stroke="#999" fill="none" stroke-width="1.25"><rect x="206.4" y="736.6" width="17.2" height="11.1" rx="2"/><line x1="212" y1="734.6" x2="212" y2="737.4"/><line x1="218" y1="734.6" x2="218" y2="737.4"/></g><text x="215" y="746" font-size="9.7" fill="#bdbdbd" text-anchor="middle">6</text>
<g stroke="#999" fill="none" stroke-width="1.25"><rect x="290.4" y="736.6" width="17.2" height="11.1" rx="2"/><line x1="296" y1="734.6" x2="296" y2="737.4"/><line x1="302" y1="734.6" x2="302" y2="737.4"/></g><text x="299" y="746" font-size="9.7" fill="#bdbdbd" text-anchor="middle">12</text>
<g stroke="#999" fill="none" stroke-width="1.25"><rect x="375.4" y="736.6" width="17.2" height="11.1" rx="2"/><line x1="381" y1="734.6" x2="381" y2="737.4"/><line x1="387" y1="734.6" x2="387" y2="737.4"/></g><text x="384" y="746" font-size="9.7" fill="#bdbdbd" text-anchor="middle">2</text>
<g stroke="#999" fill="none" stroke-width="1.25"><rect x="417.4" y="736.6" width="17.2" height="11.1" rx="2"/><line x1="423" y1="734.6" x2="423" y2="737.4"/><line x1="429" y1="734.6" x2="429" y2="737.4"/></g><text x="426" y="746" font-size="9.7" fill="#bdbdbd" text-anchor="middle">3</text>
<g stroke="#999" fill="none" stroke-width="1.25"><rect x="459.4" y="736.6" width="17.2" height="11.1" rx="2"/><line x1="465" y1="734.6" x2="465" y2="737.4"/><line x1="471" y1="734.6" x2="471" y2="737.4"/></g><text x="468" y="746" font-size="9.7" fill="#bdbdbd" text-anchor="middle">6</text>
<g stroke="#999" fill="none" stroke-width="1.25"><rect x="501.4" y="736.6" width="17.2" height="11.1" rx="2"/><line x1="507" y1="734.6" x2="507" y2="737.4"/><line x1="513" y1="734.6" x2="513" y2="737.4"/></g><text x="510" y="746" font-size="9.7" fill="#bdbdbd" text-anchor="middle">7</text>
<g stroke="#999" fill="none" stroke-width="1.25"><rect x="543.4" y="736.6" width="17.2" height="11.1" rx="2"/><line x1="549" y1="734.6" x2="549" y2="737.4"/><line x1="555" y1="734.6" x2="555" y2="737.4"/></g><text x="552" y="746" font-size="9.7" fill="#bdbdbd" text-anchor="middle">3</text>
<g stroke="#999" fill="none" stroke-width="1.25"><rect x="585.4" y="736.6" width="17.2" height="11.1" rx="2"/><line x1="591" y1="734.6" x2="591" y2="737.4"/><line x1="597" y1="734.6" x2="597" y2="737.4"/></g><text x="594" y="746" font-size="9.7" fill="#bdbdbd" text-anchor="middle">4</text>
<g stroke="#999" fill="none" stroke-width="1.25"><rect x="627.4" y="736.6" width="17.2" height="11.1" rx="2"/><line x1="633" y1="734.6" x2="633" y2="737.4"/><line x1="639" y1="734.6" x2="639" y2="737.4"/></g><text x="636" y="746" font-size="9.7" fill="#bdbdbd" text-anchor="middle">4</text>
<g stroke="#999" fill="none" stroke-width="1.25"><rect x="670.4" y="736.6" width="17.2" height="11.1" rx="2"/><line x1="676" y1="734.6" x2="676" y2="737.4"/><line x1="682" y1="734.6" x2="682" y2="737.4"/></g><text x="679" y="746" font-size="9.7" fill="#bdbdbd" text-anchor="middle">6</text>
<g stroke="#999" fill="none" stroke-width="1.25"><rect x="754.4" y="736.6" width="17.2" height="11.1" rx="2"/><line x1="760" y1="734.6" x2="760" y2="737.4"/><line x1="766" y1="734.6" x2="766" y2="737.4"/></g><text x="763" y="746" font-size="9.7" fill="#bdbdbd" text-anchor="middle">6</text>
<g stroke="#999" fill="none" stroke-width="1.25"><rect x="796.4" y="736.6" width="17.2" height="11.1" rx="2"/><line x1="802" y1="734.6" x2="802" y2="737.4"/><line x1="808" y1="734.6" x2="808" y2="737.4"/></g><text x="805" y="746" font-size="9.7" fill="#bdbdbd" text-anchor="middle">4</text>
<g stroke="#999" fill="none" stroke-width="1.25"><rect x="838.4" y="736.6" width="17.2" height="11.1" rx="2"/><line x1="844" y1="734.6" x2="844" y2="737.4"/><line x1="850" y1="734.6" x2="850" y2="737.4"/></g><text x="847" y="746" font-size="9.7" fill="#bdbdbd" text-anchor="middle">5</text>
<g stroke="#999" fill="none" stroke-width="1.25"><rect x="880.4" y="736.6" width="17.2" height="11.1" rx="2"/><line x1="886" y1="734.6" x2="886" y2="737.4"/><line x1="892" y1="734.6" x2="892" y2="737.4"/></g><text x="889" y="746" font-size="9.7" fill="#bdbdbd" text-anchor="middle">4</text>
<g stroke="#999" fill="none" stroke-width="1.25"><rect x="965.4" y="736.6" width="17.2" height="11.1" rx="2"/><line x1="971" y1="734.6" x2="971" y2="737.4"/><line x1="977" y1="734.6" x2="977" y2="737.4"/></g><text x="974" y="746" font-size="9.7" fill="#bdbdbd" text-anchor="middle">4</text>
<g stroke="#999" fill="none" stroke-width="1.25"><rect x="1007.4" y="736.6" width="17.2" height="11.1" rx="2"/><line x1="1013" y1="734.6" x2="1013" y2="737.4"/><line x1="1019" y1="734.6" x2="1019" y2="737.4"/></g><text x="1016" y="746" font-size="9.7" fill="#bdbdbd" text-anchor="middle">7</text>
<g stroke="#999" fill="none" stroke-width="1.25"><rect x="1049.4" y="736.6" width="17.2" height="11.1" rx="2"/><line x1="1055" y1="734.6" x2="1055" y2="737.4"/><line x1="1061" y1="734.6" x2="1061" y2="737.4"/></g><text x="1058" y="746" font-size="9.7" fill="#bdbdbd" text-anchor="middle">7</text>
<g stroke="#999" fill="none" stroke-width="1.25"><rect x="1091.4" y="736.6" width="17.2" height="11.1" rx="2"/><line x1="1097" y1="734.6" x2="1097" y2="737.4"/><line x1="1103" y1="734.6" x2="1103" y2="737.4"/></g><text x="1100" y="746" font-size="9.7" fill="#bdbdbd" text-anchor="middle">3</text>
<g stroke="#999" fill="none" stroke-width="1.25"><rect x="1133.4" y="736.6" width="17.2" height="11.1" rx="2"/><line x1="1139" y1="734.6" x2="1139" y2="737.4"/><line x1="1145" y1="734.6" x2="1145" y2="737.4"/></g><text x="1142" y="746" font-size="9.7" fill="#bdbdbd" text-anchor="middle">4</text>
<g stroke="#999" fill="none" stroke-width="1.25"><rect x="1175.4" y="736.6" width="17.2" height="11.1" rx="2"/><line x1="1181" y1="734.6" x2="1181" y2="737.4"/><line x1="1187" y1="734.6" x2="1187" y2="737.4"/></g><text x="1184" y="746" font-size="9.7" fill="#bdbdbd" text-anchor="middle">4</text>
<g stroke="#999" fill="none" stroke-width="1.25"><rect x="1217.4" y="736.6" width="17.2" height="11.1" rx="2"/><line x1="1223" y1="734.6" x2="1223" y2="737.4"/><line x1="1229" y1="734.6" x2="1229" y2="737.4"/></g><text x="1226" y="746" font-size="9.7" fill="#bdbdbd" text-anchor="middle">6</text>
<g stroke="#999" fill="none" stroke-width="1.25"><rect x="1302.4" y="736.6" width="17.2" height="11.1" rx="2"/><line x1="1308" y1="734.6" x2="1308" y2="737.4"/><line x1="1314" y1="734.6" x2="1314" y2="737.4"/></g><text x="1311" y="746" font-size="9.7" fill="#bdbdbd" text-anchor="middle">6</text>
<g><rect x="247" y="732.9" width="20" height="15.2" fill="#fbe6e6"/><rect x="247" y="732.90" width="20" height="1.1" fill="#ef8585"/><rect x="247" y="735.25" width="20" height="1.1" fill="#ef8585"/><rect x="247" y="737.60" width="20" height="1.1" fill="#ef8585"/><rect x="247" y="739.95" width="20" height="1.1" fill="#ef8585"/><rect x="247" y="742.30" width="20" height="1.1" fill="#ef8585"/><rect x="247" y="744.65" width="20" height="1.1" fill="#ef8585"/><rect x="247" y="747.00" width="20" height="1.1" fill="#ef8585"/><rect x="247" y="732.9" width="9" height="7.1" fill="#8f9bc2"/></g>
<g><rect x="921" y="732.9" width="20" height="15.2" fill="#fbe6e6"/><rect x="921" y="732.90" width="20" height="1.1" fill="#ef8585"/><rect x="921" y="735.25" width="20" height="1.1" fill="#ef8585"/><rect x="921" y="737.60" width="20" height="1.1" fill="#ef8585"/><rect x="921" y="739.95" width="20" height="1.1" fill="#ef8585"/><rect x="921" y="742.30" width="20" height="1.1" fill="#ef8585"/><rect x="921" y="744.65" width="20" height="1.1" fill="#ef8585"/><rect x="921" y="747.00" width="20" height="1.1" fill="#ef8585"/><rect x="921" y="732.9" width="9" height="7.1" fill="#8f9bc2"/></g>
<g><rect x="1343" y="732.9" width="20" height="15.2" fill="#fbe6e6"/><rect x="1343" y="732.90" width="20" height="1.1" fill="#ef8585"/><rect x="1343" y="735.25" width="20" height="1.1" fill="#ef8585"/><rect x="1343" y="737.60" width="20" height="1.1" fill="#ef8585"/><rect x="1343" y="739.95" width="20" height="1.1" fill="#ef8585"/><rect x="1343" y="742.30" width="20" height="1.1" fill="#ef8585"/><rect x="1343" y="744.65" width="20" height="1.1" fill="#ef8585"/><rect x="1343" y="747.00" width="20" height="1.1" fill="#ef8585"/><rect x="1343" y="732.9" width="9" height="7.1" fill="#8f9bc2"/></g>
<rect x="0" y="758" width="1499" height="41.3" fill="#d9d9d9"/>
<rect x="1369.3" y="758" width="117.4" height="41.3" fill="#fff"/>
<line x1="1369.3" y1="758.3" x2="1486.7" y2="758.3" stroke="#c8c8c8" stroke-width="1"/>
<line x1="58.5" y1="758" x2="58.5" y2="799" stroke="#c6c6c6" stroke-width="1"/>
<line x1="246.5" y1="758" x2="246.5" y2="799" stroke="#c6c6c6" stroke-width="1"/>
<line x1="434.5" y1="758" x2="434.5" y2="799" stroke="#c6c6c6" stroke-width="1"/>
<line x1="622" y1="758" x2="622" y2="799" stroke="#c6c6c6" stroke-width="1"/>
<line x1="810" y1="758" x2="810" y2="799" stroke="#c6c6c6" stroke-width="1"/>
<line x1="1000" y1="758" x2="1000" y2="799" stroke="#c6c6c6" stroke-width="1"/>
<line x1="1187.5" y1="758" x2="1187.5" y2="799" stroke="#c6c6c6" stroke-width="1"/>
<line x1="1375.4" y1="758" x2="1375.4" y2="799" stroke="#c6c6c6" stroke-width="1"/>
<path d="M0.0,787.8h2.3v2.6h-2.3zM2.5,788.5h2.3v2.6h-2.3zM4.9,788.4h2.3v2.6h-2.3zM7.4,787.0h2.3v2.6h-2.3zM12.2,786.8h2.3v2.6h-2.3zM19.6,787.6h2.3v2.6h-2.3zM22.0,787.4h2.3v2.6h-2.3zM24.5,786.5h2.3v2.6h-2.3zM31.8,786.4h2.3v2.6h-2.3zM34.3,786.0h2.3v2.6h-2.3zM44.1,782.7h2.3v2.6h-2.3zM46.6,782.2h2.3v2.6h-2.3zM49.0,781.7h2.3v2.6h-2.3zM51.5,781.8h2.3v2.6h-2.3zM58.8,782.0h2.3v2.6h-2.3zM61.3,782.1h2.3v2.6h-2.3zM63.7,782.2h2.3v2.6h-2.3zM66.2,782.7h2.3v2.6h-2.3zM68.6,783.2h2.3v2.6h-2.3zM80.9,783.2h2.3v2.6h-2.3zM83.3,783.2h2.3v2.6h-2.3zM90.7,783.9h2.3v2.6h-2.3zM93.1,783.9h2.3v2.6h-2.3zM95.6,783.9h2.3v2.6h-2.3zM98.0,783.9h2.3v2.6h-2.3zM100.5,784.5h2.3v2.6h-2.3zM110.3,784.7h2.3v2.6h-2.3zM112.7,784.6h2.3v2.6h-2.3zM115.2,784.6h2.3v2.6h-2.3zM117.6,784.5h2.3v2.6h-2.3zM120.1,785.1h2.3v2.6h-2.3zM132.3,784.5h2.3v2.6h-2.3zM134.8,784.5h2.3v2.6h-2.3zM139.7,784.4h2.3v2.6h-2.3zM142.1,784.4h2.3v2.6h-2.3zM144.6,783.6h2.3v2.6h-2.3zM156.8,783.3h2.3v2.6h-2.3zM159.2,783.8h2.3v2.6h-2.3zM161.7,784.2h2.3v2.6h-2.3zM164.1,785.0h2.3v2.6h-2.3zM166.6,784.9h2.3v2.6h-2.3zM169.0,785.6h2.3v2.6h-2.3zM178.8,784.1h2.3v2.6h-2.3zM181.3,784.0h2.3v2.6h-2.3zM183.7,784.0h2.3v2.6h-2.3zM186.2,784.0h2.3v2.6h-2.3zM188.6,783.9h2.3v2.6h-2.3zM191.1,783.9h2.3v2.6h-2.3zM193.5,783.9h2.3v2.6h-2.3zM198.4,785.2h2.3v2.6h-2.3zM203.3,785.1h2.3v2.6h-2.3zM205.8,785.1h2.3v2.6h-2.3zM210.7,785.0h2.3v2.6h-2.3zM213.1,785.0h2.3v2.6h-2.3zM215.6,785.0h2.3v2.6h-2.3zM227.8,783.5h2.3v2.6h-2.3zM230.3,783.4h2.3v2.6h-2.3zM232.7,783.4h2.3v2.6h-2.3zM235.2,784.8h2.3v2.6h-2.3zM237.6,784.8h2.3v2.6h-2.3zM240.1,784.7h2.3v2.6h-2.3zM247.4,784.6h2.3v2.6h-2.3zM249.9,784.6h2.3v2.6h-2.3zM252.3,784.7h2.3v2.6h-2.3zM254.8,785.2h2.3v2.6h-2.3zM257.2,785.7h2.3v2.6h-2.3zM259.7,786.2h2.3v2.6h-2.3zM264.6,785.5h2.3v2.6h-2.3zM267.0,785.7h2.3v2.6h-2.3zM269.5,785.9h2.3v2.6h-2.3zM271.9,786.0h2.3v2.6h-2.3zM274.4,786.2h2.3v2.6h-2.3zM276.8,786.4h2.3v2.6h-2.3zM286.6,786.0h2.3v2.6h-2.3zM289.1,786.6h2.3v2.6h-2.3zM291.5,786.4h2.3v2.6h-2.3zM294.0,786.3h2.3v2.6h-2.3zM296.4,786.2h2.3v2.6h-2.3zM298.9,786.1h2.3v2.6h-2.3zM306.2,785.2h2.3v2.6h-2.3zM308.7,785.1h2.3v2.6h-2.3zM311.1,785.0h2.3v2.6h-2.3zM313.6,784.9h2.3v2.6h-2.3zM316.0,784.8h2.3v2.6h-2.3zM318.5,784.7h2.3v2.6h-2.3zM320.9,785.4h2.3v2.6h-2.3zM328.3,785.2h2.3v2.6h-2.3zM330.7,785.8h2.3v2.6h-2.3zM333.2,785.8h2.3v2.6h-2.3zM335.6,785.7h2.3v2.6h-2.3zM343.0,784.9h2.3v2.6h-2.3zM350.3,785.4h2.3v2.6h-2.3zM352.8,785.4h2.3v2.6h-2.3zM355.2,785.3h2.3v2.6h-2.3zM357.7,785.3h2.3v2.6h-2.3zM360.1,783.9h2.3v2.6h-2.3zM365.0,783.8h2.3v2.6h-2.3zM367.5,783.8h2.3v2.6h-2.3zM369.9,783.8h2.3v2.6h-2.3zM372.4,785.2h2.3v2.6h-2.3zM377.3,784.4h2.3v2.6h-2.3zM379.7,784.4h2.3v2.6h-2.3zM382.2,784.4h2.3v2.6h-2.3zM392.0,784.3h2.3v2.6h-2.3zM394.4,784.3h2.3v2.6h-2.3zM396.9,784.2h2.3v2.6h-2.3zM409.1,783.7h2.3v2.6h-2.3zM411.6,785.1h2.3v2.6h-2.3zM414.0,785.2h2.3v2.6h-2.3zM416.5,784.5h2.3v2.6h-2.3zM426.3,784.2h2.3v2.6h-2.3zM428.7,785.3h2.3v2.6h-2.3zM431.2,785.6h2.3v2.6h-2.3zM433.6,786.0h2.3v2.6h-2.3zM441.0,785.4h2.3v2.6h-2.3zM443.4,785.4h2.3v2.6h-2.3zM445.9,785.3h2.3v2.6h-2.3zM448.3,786.7h2.3v2.6h-2.3zM450.8,786.7h2.3v2.6h-2.3zM453.2,786.6h2.3v2.6h-2.3zM463.0,786.5h2.3v2.6h-2.3zM465.5,786.4h2.3v2.6h-2.3zM467.9,786.4h2.3v2.6h-2.3zM470.4,786.4h2.3v2.6h-2.3zM472.8,786.3h2.3v2.6h-2.3zM475.3,784.9h2.3v2.6h-2.3zM480.2,784.8h2.3v2.6h-2.3zM482.6,784.8h2.3v2.6h-2.3zM487.5,784.7h2.3v2.6h-2.3zM490.0,784.7h2.3v2.6h-2.3zM492.4,784.6h2.3v2.6h-2.3zM494.9,784.6h2.3v2.6h-2.3zM497.3,784.5h2.3v2.6h-2.3zM499.8,784.5h2.3v2.6h-2.3zM514.5,785.6h2.3v2.6h-2.3zM516.9,785.0h2.3v2.6h-2.3zM519.4,785.1h2.3v2.6h-2.3zM521.8,785.2h2.3v2.6h-2.3zM524.3,786.6h2.3v2.6h-2.3zM529.2,786.8h2.3v2.6h-2.3zM531.6,786.8h2.3v2.6h-2.3zM534.1,785.5h2.3v2.6h-2.3zM536.5,787.0h2.3v2.6h-2.3zM539.0,787.1h2.3v2.6h-2.3zM548.8,786.7h2.3v2.6h-2.3zM551.2,786.7h2.3v2.6h-2.3zM556.1,786.6h2.3v2.6h-2.3zM558.6,785.8h2.3v2.6h-2.3zM570.8,786.3h2.3v2.6h-2.3zM578.2,786.1h2.3v2.6h-2.3zM580.6,786.1h2.3v2.6h-2.3zM583.1,786.0h2.3v2.6h-2.3zM588.0,785.9h2.3v2.6h-2.3zM595.3,786.5h2.3v2.6h-2.3zM597.8,786.4h2.3v2.6h-2.3zM600.2,786.4h2.3v2.6h-2.3zM602.7,785.7h2.3v2.6h-2.3zM605.2,785.7h2.3v2.6h-2.3zM612.5,786.4h2.3v2.6h-2.3zM615.0,785.0h2.3v2.6h-2.3zM617.4,786.4h2.3v2.6h-2.3zM619.9,785.7h2.3v2.6h-2.3zM627.2,785.7h2.3v2.6h-2.3zM629.7,785.7h2.3v2.6h-2.3zM632.1,785.7h2.3v2.6h-2.3zM634.6,785.7h2.3v2.6h-2.3zM637.0,785.7h2.3v2.6h-2.3zM639.5,785.7h2.3v2.6h-2.3zM651.7,785.7h2.3v2.6h-2.3zM654.2,785.7h2.3v2.6h-2.3zM656.6,785.7h2.3v2.6h-2.3zM659.1,785.7h2.3v2.6h-2.3zM661.5,785.0h2.3v2.6h-2.3zM664.0,785.0h2.3v2.6h-2.3zM676.2,785.7h2.3v2.6h-2.3zM678.7,786.4h2.3v2.6h-2.3zM681.1,785.7h2.3v2.6h-2.3zM686.0,785.7h2.3v2.6h-2.3zM695.8,785.0h2.3v2.6h-2.3zM698.3,785.0h2.3v2.6h-2.3zM700.7,785.0h2.3v2.6h-2.3zM703.2,785.1h2.3v2.6h-2.3zM708.1,785.3h2.3v2.6h-2.3zM710.5,785.4h2.3v2.6h-2.3zM713.0,785.5h2.3v2.6h-2.3zM715.4,785.6h2.3v2.6h-2.3zM722.8,785.9h2.3v2.6h-2.3zM725.2,786.7h2.3v2.6h-2.3zM727.7,787.4h2.3v2.6h-2.3zM730.1,787.4h2.3v2.6h-2.3zM732.6,787.4h2.3v2.6h-2.3zM735.0,786.0h2.3v2.6h-2.3zM747.3,787.4h2.3v2.6h-2.3zM749.7,787.4h2.3v2.6h-2.3zM762.0,787.5h2.3v2.6h-2.3zM764.4,787.6h2.3v2.6h-2.3zM766.9,786.9h2.3v2.6h-2.3zM769.3,786.9h2.3v2.6h-2.3zM771.8,787.6h2.3v2.6h-2.3zM776.7,787.7h2.3v2.6h-2.3zM779.1,787.7h2.3v2.6h-2.3zM788.9,787.8h2.3v2.6h-2.3zM791.4,787.8h2.3v2.6h-2.3zM796.3,786.5h2.3v2.6h-2.3zM798.7,786.5h2.3v2.6h-2.3zM801.2,786.5h2.3v2.6h-2.3zM803.6,786.5h2.3v2.6h-2.3zM806.1,786.5h2.3v2.6h-2.3zM808.5,786.5h2.3v2.6h-2.3zM811.0,786.5h2.3v2.6h-2.3zM820.8,786.5h2.3v2.6h-2.3zM823.2,786.5h2.3v2.6h-2.3zM825.7,786.5h2.3v2.6h-2.3zM828.1,787.9h2.3v2.6h-2.3zM830.6,787.2h2.3v2.6h-2.3zM842.8,785.6h2.3v2.6h-2.3zM845.3,785.4h2.3v2.6h-2.3zM847.7,785.1h2.3v2.6h-2.3zM850.2,785.7h2.3v2.6h-2.3zM857.5,785.6h2.3v2.6h-2.3zM862.4,784.9h2.3v2.6h-2.3zM872.2,786.2h2.3v2.6h-2.3zM874.7,786.1h2.3v2.6h-2.3zM879.6,786.1h2.3v2.6h-2.3zM889.4,785.3h2.3v2.6h-2.3zM891.8,785.3h2.3v2.6h-2.3zM896.7,785.2h2.3v2.6h-2.3zM899.2,785.2h2.3v2.6h-2.3zM904.1,785.2h2.3v2.6h-2.3zM906.5,785.1h2.3v2.6h-2.3zM909.0,785.1h2.3v2.6h-2.3zM911.4,785.1h2.3v2.6h-2.3zM921.2,785.0h2.3v2.6h-2.3zM923.7,785.0h2.3v2.6h-2.3zM931.0,784.2h2.3v2.6h-2.3zM933.5,784.2h2.3v2.6h-2.3zM943.3,784.1h2.3v2.6h-2.3zM945.7,784.7h2.3v2.6h-2.3zM948.2,784.7h2.3v2.6h-2.3zM953.1,784.6h2.3v2.6h-2.3zM955.5,784.6h2.3v2.6h-2.3zM958.0,784.6h2.3v2.6h-2.3zM965.3,785.1h2.3v2.6h-2.3zM967.8,785.1h2.3v2.6h-2.3zM970.2,785.1h2.3v2.6h-2.3zM972.7,785.0h2.3v2.6h-2.3zM975.1,785.0h2.3v2.6h-2.3zM977.6,784.9h2.3v2.6h-2.3zM980.0,784.9h2.3v2.6h-2.3zM992.3,784.7h2.3v2.6h-2.3zM997.2,784.0h2.3v2.6h-2.3zM999.6,783.6h2.3v2.6h-2.3zM1009.4,783.8h2.3v2.6h-2.3zM1014.3,784.1h2.3v2.6h-2.3zM1016.8,784.2h2.3v2.6h-2.3zM1019.2,784.4h2.3v2.6h-2.3zM1021.7,784.5h2.3v2.6h-2.3zM1029.0,784.1h2.3v2.6h-2.3zM1031.5,783.5h2.3v2.6h-2.3zM1033.9,783.0h2.3v2.6h-2.3zM1036.4,781.9h2.3v2.6h-2.3zM1043.7,780.0h2.3v2.6h-2.3zM1046.2,780.3h2.3v2.6h-2.3zM1048.6,780.0h2.3v2.6h-2.3zM1051.1,779.6h2.3v2.6h-2.3zM1056.0,778.8h2.3v2.6h-2.3zM1058.4,778.9h2.3v2.6h-2.3zM1060.9,779.1h2.3v2.6h-2.3zM1063.3,779.3h2.3v2.6h-2.3zM1075.6,777.0h2.3v2.6h-2.3zM1078.0,776.0h2.3v2.6h-2.3zM1082.9,776.0h2.3v2.6h-2.3zM1087.8,776.0h2.3v2.6h-2.3zM1090.3,776.0h2.3v2.6h-2.3zM1100.1,777.9h2.3v2.6h-2.3zM1102.5,778.2h2.3v2.6h-2.3zM1105.0,778.4h2.3v2.6h-2.3zM1107.4,778.7h2.3v2.6h-2.3zM1109.9,778.3h2.3v2.6h-2.3zM1122.1,774.3h2.3v2.6h-2.3zM1124.6,773.7h2.3v2.6h-2.3zM1127.0,773.1h2.3v2.6h-2.3zM1136.8,773.8h2.3v2.6h-2.3zM1139.3,773.8h2.3v2.6h-2.3zM1141.7,772.3h2.3v2.6h-2.3zM1144.2,772.2h2.3v2.6h-2.3zM1146.6,772.1h2.3v2.6h-2.3zM1156.4,772.7h2.3v2.6h-2.3zM1158.9,773.0h2.3v2.6h-2.3zM1161.3,773.4h2.3v2.6h-2.3zM1163.8,773.8h2.3v2.6h-2.3zM1171.1,775.0h2.3v2.6h-2.3zM1173.6,775.4h2.3v2.6h-2.3zM1176.0,775.7h2.3v2.6h-2.3zM1178.5,775.9h2.3v2.6h-2.3zM1183.4,777.1h2.3v2.6h-2.3zM1185.8,777.4h2.3v2.6h-2.3zM1188.3,777.6h2.3v2.6h-2.3zM1190.7,777.2h2.3v2.6h-2.3zM1193.2,777.4h2.3v2.6h-2.3zM1198.1,779.3h2.3v2.6h-2.3zM1203.0,778.9h2.3v2.6h-2.3zM1205.4,778.6h2.3v2.6h-2.3zM1207.9,778.3h2.3v2.6h-2.3zM1210.3,778.0h2.3v2.6h-2.3zM1212.8,777.7h2.3v2.6h-2.3zM1220.1,775.6h2.3v2.6h-2.3zM1222.6,775.8h2.3v2.6h-2.3zM1225.0,776.0h2.3v2.6h-2.3zM1227.5,776.1h2.3v2.6h-2.3zM1239.7,777.6h2.3v2.6h-2.3zM1244.6,777.2h2.3v2.6h-2.3zM1247.1,777.0h2.3v2.6h-2.3zM1249.5,776.8h2.3v2.6h-2.3zM1252.0,776.6h2.3v2.6h-2.3zM1256.9,776.2h2.3v2.6h-2.3zM1259.3,776.0h2.3v2.6h-2.3zM1261.8,775.8h2.3v2.6h-2.3zM1264.2,775.6h2.3v2.6h-2.3zM1266.7,776.1h2.3v2.6h-2.3zM1269.1,775.9h2.3v2.6h-2.3zM1271.6,775.8h2.3v2.6h-2.3zM1276.5,775.5h2.3v2.6h-2.3zM1278.9,775.4h2.3v2.6h-2.3zM1281.4,775.3h2.3v2.6h-2.3zM1283.8,775.2h2.3v2.6h-2.3zM1286.3,775.0h2.3v2.6h-2.3zM1293.6,774.7h2.3v2.6h-2.3zM1296.1,774.5h2.3v2.6h-2.3zM1298.5,774.4h2.3v2.6h-2.3zM1301.0,774.3h2.3v2.6h-2.3zM1303.4,774.1h2.3v2.6h-2.3zM1305.9,774.0h2.3v2.6h-2.3zM1318.1,773.3h2.3v2.6h-2.3zM1320.6,773.1h2.3v2.6h-2.3zM1323.0,773.0h2.3v2.6h-2.3zM1327.9,771.5h2.3v2.6h-2.3zM1330.4,771.5h2.3v2.6h-2.3zM1332.8,772.9h2.3v2.6h-2.3zM1335.3,772.9h2.3v2.6h-2.3zM1350.0,771.6h2.3v2.6h-2.3zM1352.4,771.9h2.3v2.6h-2.3zM1354.9,772.2h2.3v2.6h-2.3zM1357.3,772.5h2.3v2.6h-2.3zM1359.8,772.8h2.3v2.6h-2.3zM1367.1,773.8h2.3v2.6h-2.3zM1369.6,773.9h2.3v2.6h-2.3zM1376.9,773.2h2.3v2.6h-2.3zM1379.4,773.0h2.3v2.6h-2.3zM1384.3,772.7h2.3v2.6h-2.3zM1386.7,773.3h2.3v2.6h-2.3zM1394.1,772.9h2.3v2.6h-2.3zM1399.0,772.7h2.3v2.6h-2.3zM1401.4,772.6h2.3v2.6h-2.3zM1403.9,772.5h2.3v2.6h-2.3zM1406.3,773.0h2.3v2.6h-2.3zM1411.2,772.1h2.3v2.6h-2.3zM1413.7,771.2h2.3v2.6h-2.3zM1416.1,771.0h2.3v2.6h-2.3zM1418.6,770.9h2.3v2.6h-2.3zM1421.0,772.1h2.3v2.6h-2.3zM1423.5,771.9h2.3v2.6h-2.3zM1425.9,771.8h2.3v2.6h-2.3zM1438.2,771.0h2.3v2.6h-2.3zM1440.6,770.8h2.3v2.6h-2.3zM1443.1,770.7h2.3v2.6h-2.3zM1445.5,769.9h2.3v2.6h-2.3zM1448.0,769.8h2.3v2.6h-2.3zM1450.4,769.6h2.3v2.6h-2.3zM1452.9,769.5h2.3v2.6h-2.3zM1457.8,769.3h2.3v2.6h-2.3zM1460.2,769.1h2.3v2.6h-2.3zM1462.7,769.0h2.3v2.6h-2.3zM1465.1,768.9h2.3v2.6h-2.3zM1470.0,768.8h2.3v2.6h-2.3zM1472.5,769.1h2.3v2.6h-2.3zM1474.9,768.7h2.3v2.6h-2.3zM1484.7,771.7h2.3v2.6h-2.3z" fill="#178893"/>
<path d="M9.8,788.3h2.3v2.6h-2.3zM26.9,787.0h2.3v2.6h-2.3zM29.4,786.8h2.3v2.6h-2.3zM36.8,785.5h2.3v2.6h-2.3zM39.2,785.0h2.3v2.6h-2.3zM41.7,783.1h2.3v2.6h-2.3zM53.9,781.9h2.3v2.6h-2.3zM56.4,781.9h2.3v2.6h-2.3zM73.5,783.2h2.3v2.6h-2.3zM76.0,783.2h2.3v2.6h-2.3zM78.4,783.2h2.3v2.6h-2.3zM85.8,783.2h2.3v2.6h-2.3zM88.2,783.9h2.3v2.6h-2.3zM102.9,784.3h2.3v2.6h-2.3zM122.5,784.9h2.3v2.6h-2.3zM125.0,784.8h2.3v2.6h-2.3zM127.4,783.2h2.3v2.6h-2.3zM137.2,784.5h2.3v2.6h-2.3zM147.0,783.6h2.3v2.6h-2.3zM149.5,784.3h2.3v2.6h-2.3zM151.9,784.2h2.3v2.6h-2.3zM154.3,782.9h2.3v2.6h-2.3zM171.5,785.6h2.3v2.6h-2.3zM173.9,785.5h2.3v2.6h-2.3zM176.4,784.1h2.3v2.6h-2.3zM196.0,783.8h2.3v2.6h-2.3zM208.2,785.1h2.3v2.6h-2.3zM218.0,785.0h2.3v2.6h-2.3zM220.5,783.5h2.3v2.6h-2.3zM222.9,783.5h2.3v2.6h-2.3zM225.4,783.5h2.3v2.6h-2.3zM242.5,783.3h2.3v2.6h-2.3zM245.0,784.7h2.3v2.6h-2.3zM262.1,786.7h2.3v2.6h-2.3zM279.3,786.3h2.3v2.6h-2.3zM281.7,786.2h2.3v2.6h-2.3zM284.2,786.1h2.3v2.6h-2.3zM301.3,786.0h2.3v2.6h-2.3zM303.8,785.9h2.3v2.6h-2.3zM323.4,785.3h2.3v2.6h-2.3zM325.8,785.3h2.3v2.6h-2.3zM338.1,784.3h2.3v2.6h-2.3zM345.4,784.8h2.3v2.6h-2.3zM347.9,784.7h2.3v2.6h-2.3zM362.6,783.9h2.3v2.6h-2.3zM374.8,785.2h2.3v2.6h-2.3zM389.5,784.3h2.3v2.6h-2.3zM399.3,784.2h2.3v2.6h-2.3zM401.8,783.5h2.3v2.6h-2.3zM404.2,783.6h2.3v2.6h-2.3zM406.7,783.6h2.3v2.6h-2.3zM418.9,784.6h2.3v2.6h-2.3zM421.4,783.9h2.3v2.6h-2.3zM423.8,784.0h2.3v2.6h-2.3zM436.1,785.5h2.3v2.6h-2.3zM438.5,785.4h2.3v2.6h-2.3zM455.7,786.6h2.3v2.6h-2.3zM458.1,786.5h2.3v2.6h-2.3zM460.6,786.5h2.3v2.6h-2.3zM477.7,784.8h2.3v2.6h-2.3zM485.1,784.7h2.3v2.6h-2.3zM502.2,786.0h2.3v2.6h-2.3zM504.7,786.0h2.3v2.6h-2.3zM507.1,784.7h2.3v2.6h-2.3zM509.6,784.8h2.3v2.6h-2.3zM541.4,787.1h2.3v2.6h-2.3zM543.9,786.5h2.3v2.6h-2.3zM546.3,786.6h2.3v2.6h-2.3zM563.5,785.7h2.3v2.6h-2.3zM565.9,786.4h2.3v2.6h-2.3zM573.3,786.2h2.3v2.6h-2.3zM575.7,786.2h2.3v2.6h-2.3zM590.4,785.9h2.3v2.6h-2.3zM592.9,786.5h2.3v2.6h-2.3zM607.6,786.4h2.3v2.6h-2.3zM610.1,786.4h2.3v2.6h-2.3zM622.3,785.7h2.3v2.6h-2.3zM624.8,785.7h2.3v2.6h-2.3zM641.9,785.7h2.3v2.6h-2.3zM644.4,785.7h2.3v2.6h-2.3zM646.8,785.7h2.3v2.6h-2.3zM649.3,785.7h2.3v2.6h-2.3zM668.9,786.4h2.3v2.6h-2.3zM671.3,786.4h2.3v2.6h-2.3zM673.8,785.7h2.3v2.6h-2.3zM688.5,785.7h2.3v2.6h-2.3zM690.9,785.7h2.3v2.6h-2.3zM693.4,785.7h2.3v2.6h-2.3zM705.6,785.2h2.3v2.6h-2.3zM717.9,785.7h2.3v2.6h-2.3zM720.3,785.8h2.3v2.6h-2.3zM737.5,786.0h2.3v2.6h-2.3zM739.9,786.0h2.3v2.6h-2.3zM742.4,786.0h2.3v2.6h-2.3zM744.8,787.4h2.3v2.6h-2.3zM752.2,786.0h2.3v2.6h-2.3zM754.6,786.8h2.3v2.6h-2.3zM757.1,786.1h2.3v2.6h-2.3zM759.5,786.1h2.3v2.6h-2.3zM774.2,787.7h2.3v2.6h-2.3zM781.6,787.7h2.3v2.6h-2.3zM784.0,787.8h2.3v2.6h-2.3zM786.5,787.8h2.3v2.6h-2.3zM793.8,786.4h2.3v2.6h-2.3zM813.4,786.5h2.3v2.6h-2.3zM815.9,786.5h2.3v2.6h-2.3zM818.3,786.5h2.3v2.6h-2.3zM833.0,786.5h2.3v2.6h-2.3zM835.5,786.4h2.3v2.6h-2.3zM837.9,786.1h2.3v2.6h-2.3zM840.4,785.9h2.3v2.6h-2.3zM852.6,785.7h2.3v2.6h-2.3zM855.1,785.6h2.3v2.6h-2.3zM864.9,785.5h2.3v2.6h-2.3zM867.3,786.2h2.3v2.6h-2.3zM869.8,786.2h2.3v2.6h-2.3zM882.0,785.4h2.3v2.6h-2.3zM886.9,785.3h2.3v2.6h-2.3zM894.3,785.2h2.3v2.6h-2.3zM901.6,785.2h2.3v2.6h-2.3zM913.9,785.1h2.3v2.6h-2.3zM916.3,785.0h2.3v2.6h-2.3zM918.8,785.0h2.3v2.6h-2.3zM926.1,784.2h2.3v2.6h-2.3zM928.6,784.2h2.3v2.6h-2.3zM935.9,784.1h2.3v2.6h-2.3zM938.4,784.1h2.3v2.6h-2.3zM940.8,784.1h2.3v2.6h-2.3zM950.6,784.7h2.3v2.6h-2.3zM960.4,785.2h2.3v2.6h-2.3zM962.9,785.2h2.3v2.6h-2.3zM982.5,784.9h2.3v2.6h-2.3zM987.4,784.8h2.3v2.6h-2.3zM989.8,784.7h2.3v2.6h-2.3zM1004.5,783.6h2.3v2.6h-2.3zM1007.0,783.7h2.3v2.6h-2.3zM1024.1,784.6h2.3v2.6h-2.3zM1026.6,783.9h2.3v2.6h-2.3zM1041.3,780.4h2.3v2.6h-2.3zM1053.5,779.2h2.3v2.6h-2.3zM1068.2,779.8h2.3v2.6h-2.3zM1070.7,779.7h2.3v2.6h-2.3zM1073.1,778.7h2.3v2.6h-2.3zM1092.7,776.0h2.3v2.6h-2.3zM1095.2,776.0h2.3v2.6h-2.3zM1097.6,776.2h2.3v2.6h-2.3zM1114.8,776.1h2.3v2.6h-2.3zM1117.2,775.6h2.3v2.6h-2.3zM1119.7,776.4h2.3v2.6h-2.3zM1131.9,774.0h2.3v2.6h-2.3zM1149.1,772.0h2.3v2.6h-2.3zM1151.5,772.2h2.3v2.6h-2.3zM1154.0,772.4h2.3v2.6h-2.3zM1166.2,774.2h2.3v2.6h-2.3zM1168.7,774.6h2.3v2.6h-2.3zM1180.9,776.2h2.3v2.6h-2.3zM1217.7,775.7h2.3v2.6h-2.3zM1229.9,777.0h2.3v2.6h-2.3zM1232.4,777.2h2.3v2.6h-2.3zM1234.8,777.4h2.3v2.6h-2.3zM1254.4,776.4h2.3v2.6h-2.3zM1274.0,775.6h2.3v2.6h-2.3zM1288.7,774.9h2.3v2.6h-2.3zM1291.2,774.8h2.3v2.6h-2.3zM1308.3,773.8h2.3v2.6h-2.3zM1310.8,773.7h2.3v2.6h-2.3zM1313.2,773.5h2.3v2.6h-2.3zM1315.7,773.4h2.3v2.6h-2.3zM1325.5,772.9h2.3v2.6h-2.3zM1340.2,772.9h2.3v2.6h-2.3zM1342.6,772.9h2.3v2.6h-2.3zM1345.1,772.9h2.3v2.6h-2.3zM1347.5,771.5h2.3v2.6h-2.3zM1362.2,773.2h2.3v2.6h-2.3zM1364.7,773.5h2.3v2.6h-2.3zM1372.0,773.7h2.3v2.6h-2.3zM1374.5,773.5h2.3v2.6h-2.3zM1389.2,773.2h2.3v2.6h-2.3zM1391.6,773.1h2.3v2.6h-2.3zM1408.8,772.9h2.3v2.6h-2.3zM1428.4,770.2h2.3v2.6h-2.3zM1430.8,771.4h2.3v2.6h-2.3zM1433.3,771.3h2.3v2.6h-2.3zM1435.7,771.1h2.3v2.6h-2.3zM1455.3,769.4h2.3v2.6h-2.3zM1467.6,768.8h2.3v2.6h-2.3zM1477.4,769.0h2.3v2.6h-2.3zM1479.8,769.3h2.3v2.6h-2.3zM1482.3,770.0h2.3v2.6h-2.3z" fill="#c2353d"/>
<line x1="0" y1="799.5" x2="1499" y2="799.5" stroke="#777" stroke-width="1"/>
<line x1="1369.3" y1="758" x2="1369.3" y2="799" stroke="#9a9a9a" stroke-width="1.6"/>
<line x1="1487" y1="758" x2="1487" y2="799" stroke="#9a9a9a" stroke-width="1.6"/>
<rect x="1367.3" y="766.6" width="4" height="24" rx="2" fill="#9a9a9a"/>
<rect x="1485" y="766.6" width="4" height="24" rx="2" fill="#9a9a9a"/>
<rect x="1" y="761" width="14" height="13.5" fill="#fff"/>
<path d="M4.5,764.3 L11.5,771.3 M11.5,764.3 L4.5,771.3" stroke="#888" stroke-width="2"/>
<line x1="58.5" y1="799" x2="58.5" y2="804" stroke="#888" stroke-width="1"/>
<text x="58.5" y="815" font-size="12.5" fill="#444" text-anchor="middle">2017</text>
<line x1="246.5" y1="799" x2="246.5" y2="804" stroke="#888" stroke-width="1"/>
<text x="246.5" y="815" font-size="12.5" fill="#444" text-anchor="middle">2018</text>
<line x1="434.5" y1="799" x2="434.5" y2="804" stroke="#888" stroke-width="1"/>
<text x="434.5" y="815" font-size="12.5" fill="#444" text-anchor="middle">2019</text>
<line x1="622" y1="799" x2="622" y2="804" stroke="#888" stroke-width="1"/>
<text x="622" y="815" font-size="12.5" fill="#444" text-anchor="middle">2020</text>
<line x1="810" y1="799" x2="810" y2="804" stroke="#888" stroke-width="1"/>
<text x="810" y="815" font-size="12.5" fill="#444" text-anchor="middle">2021</text>
<line x1="1000" y1="799" x2="1000" y2="804" stroke="#888" stroke-width="1"/>
<text x="1000" y="815" font-size="12.5" fill="#444" text-anchor="middle">2022</text>
<line x1="1187.5" y1="799" x2="1187.5" y2="804" stroke="#888" stroke-width="1"/>
<text x="1187.5" y="815" font-size="12.5" fill="#444" text-anchor="middle">2023</text>
<line x1="1375.4" y1="799" x2="1375.4" y2="804" stroke="#888" stroke-width="1"/>
<text x="1375.4" y="815" font-size="12.5" fill="#444" text-anchor="middle">2024</text>
<text x="-1" y="815" font-size="12.5" fill="#444">16</text>
<path d="M1498,822h1v1h-1zM1497,823h1v1h-1zM1496,824h1v1h-1zM1498,824h1v1h-1zM1495,825h1v1h-1zM1497,825h1v1h-1zM1494,826h1v1h-1zM1496,826h1v1h-1zM1498,826h1v1h-1z" fill="#000"/>
</svg></body></html>
